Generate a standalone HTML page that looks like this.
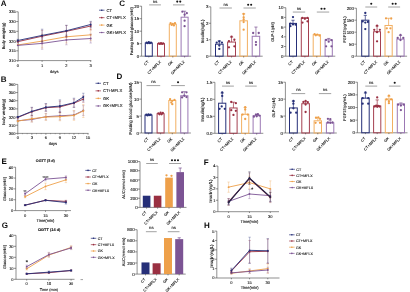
<!DOCTYPE html><html><head><meta charset="utf-8"><style>html,body{margin:0;padding:0;background:#fff;width:410px;height:292px;overflow:hidden}svg{display:block;will-change:transform}</style></head><body>
<svg width="410" height="292" viewBox="0 0 410 292" text-rendering="geometricPrecision" font-family='"Liberation Sans", sans-serif'>
<rect width="410" height="292" fill="#fff"/>
<text x="0.80" y="6.30" font-size="8" text-anchor="start" font-weight="bold" fill="#0a0a0a">A</text>
<line x1="18.20" y1="11.80" x2="18.20" y2="60.60" stroke="#444" stroke-width="0.6"/>
<line x1="16.20" y1="60.60" x2="18.20" y2="60.60" stroke="#444" stroke-width="0.6"/>
<text x="15.80" y="62.04" font-size="4.0" text-anchor="end" font-weight="normal" fill="#111" stroke="#111" stroke-width="0.1">310</text>
<line x1="16.20" y1="50.84" x2="18.20" y2="50.84" stroke="#444" stroke-width="0.6"/>
<text x="15.80" y="52.28" font-size="4.0" text-anchor="end" font-weight="normal" fill="#111" stroke="#111" stroke-width="0.1">315</text>
<line x1="16.20" y1="41.08" x2="18.20" y2="41.08" stroke="#444" stroke-width="0.6"/>
<text x="15.80" y="42.52" font-size="4.0" text-anchor="end" font-weight="normal" fill="#111" stroke="#111" stroke-width="0.1">320</text>
<line x1="16.20" y1="31.32" x2="18.20" y2="31.32" stroke="#444" stroke-width="0.6"/>
<text x="15.80" y="32.76" font-size="4.0" text-anchor="end" font-weight="normal" fill="#111" stroke="#111" stroke-width="0.1">325</text>
<line x1="16.20" y1="21.56" x2="18.20" y2="21.56" stroke="#444" stroke-width="0.6"/>
<text x="15.80" y="23.00" font-size="4.0" text-anchor="end" font-weight="normal" fill="#111" stroke="#111" stroke-width="0.1">330</text>
<line x1="16.20" y1="11.80" x2="18.20" y2="11.80" stroke="#444" stroke-width="0.6"/>
<text x="15.80" y="13.24" font-size="4.0" text-anchor="end" font-weight="normal" fill="#111" stroke="#111" stroke-width="0.1">335</text>
<line x1="18.20" y1="60.60" x2="91.30" y2="60.60" stroke="#444" stroke-width="0.6"/>
<line x1="17.80" y1="60.60" x2="17.80" y2="61.90" stroke="#444" stroke-width="0.6"/>
<text x="17.80" y="66.60" font-size="4.0" text-anchor="middle" font-weight="normal" fill="#111" stroke="#111" stroke-width="0.1">0</text>
<line x1="42.10" y1="60.60" x2="42.10" y2="61.90" stroke="#444" stroke-width="0.6"/>
<text x="42.10" y="66.60" font-size="4.0" text-anchor="middle" font-weight="normal" fill="#111" stroke="#111" stroke-width="0.1">1</text>
<line x1="66.40" y1="60.60" x2="66.40" y2="61.90" stroke="#444" stroke-width="0.6"/>
<text x="66.40" y="66.60" font-size="4.0" text-anchor="middle" font-weight="normal" fill="#111" stroke="#111" stroke-width="0.1">2</text>
<line x1="90.70" y1="60.60" x2="90.70" y2="61.90" stroke="#444" stroke-width="0.6"/>
<text x="90.70" y="66.60" font-size="4.0" text-anchor="middle" font-weight="normal" fill="#111" stroke="#111" stroke-width="0.1">3</text>
<text x="54.25" y="72.50" font-size="4.0" text-anchor="middle" font-weight="normal" fill="#111" stroke="#111" stroke-width="0.1">days</text>
<text x="5.20" y="36.00" font-size="4.0" text-anchor="middle" font-weight="normal" fill="#111" stroke="#111" stroke-width="0.1" transform="rotate(-90 5.20 36.00)">Body weight(g)</text>
<line x1="42.10" y1="34.25" x2="42.10" y2="47.91" stroke="#eea04a" stroke-width="0.45" stroke-opacity="0.7"/>
<line x1="40.90" y1="34.25" x2="43.30" y2="34.25" stroke="#eea04a" stroke-width="0.45" stroke-opacity="0.7"/>
<line x1="40.90" y1="47.91" x2="43.30" y2="47.91" stroke="#eea04a" stroke-width="0.45" stroke-opacity="0.7"/>
<line x1="66.40" y1="30.54" x2="66.40" y2="43.03" stroke="#eea04a" stroke-width="0.45" stroke-opacity="0.7"/>
<line x1="65.20" y1="30.54" x2="67.60" y2="30.54" stroke="#eea04a" stroke-width="0.45" stroke-opacity="0.7"/>
<line x1="65.20" y1="43.03" x2="67.60" y2="43.03" stroke="#eea04a" stroke-width="0.45" stroke-opacity="0.7"/>
<line x1="90.70" y1="28.98" x2="90.70" y2="40.69" stroke="#eea04a" stroke-width="0.45" stroke-opacity="0.7"/>
<line x1="89.50" y1="28.98" x2="91.90" y2="28.98" stroke="#eea04a" stroke-width="0.45" stroke-opacity="0.7"/>
<line x1="89.50" y1="40.69" x2="91.90" y2="40.69" stroke="#eea04a" stroke-width="0.45" stroke-opacity="0.7"/>
<polyline points="17.80,44.98 42.10,41.08 66.40,36.79 90.70,34.83" fill="none" stroke="#eea04a" stroke-width="0.9"/>
<circle cx="17.80" cy="44.98" r="0.95" fill="#eea04a"/>
<circle cx="42.10" cy="41.08" r="0.95" fill="#eea04a"/>
<circle cx="66.40" cy="36.79" r="0.95" fill="#eea04a"/>
<circle cx="90.70" cy="34.83" r="0.95" fill="#eea04a"/>
<line x1="42.10" y1="37.57" x2="42.10" y2="49.28" stroke="#7c5494" stroke-width="0.45" stroke-opacity="0.7"/>
<line x1="40.90" y1="37.57" x2="43.30" y2="37.57" stroke="#7c5494" stroke-width="0.45" stroke-opacity="0.7"/>
<line x1="40.90" y1="49.28" x2="43.30" y2="49.28" stroke="#7c5494" stroke-width="0.45" stroke-opacity="0.7"/>
<line x1="66.40" y1="35.03" x2="66.40" y2="44.79" stroke="#7c5494" stroke-width="0.45" stroke-opacity="0.7"/>
<line x1="65.20" y1="35.03" x2="67.60" y2="35.03" stroke="#7c5494" stroke-width="0.45" stroke-opacity="0.7"/>
<line x1="65.20" y1="44.79" x2="67.60" y2="44.79" stroke="#7c5494" stroke-width="0.45" stroke-opacity="0.7"/>
<line x1="90.70" y1="34.05" x2="90.70" y2="43.03" stroke="#7c5494" stroke-width="0.45" stroke-opacity="0.7"/>
<line x1="89.50" y1="34.05" x2="91.90" y2="34.05" stroke="#7c5494" stroke-width="0.45" stroke-opacity="0.7"/>
<line x1="89.50" y1="43.03" x2="91.90" y2="43.03" stroke="#7c5494" stroke-width="0.45" stroke-opacity="0.7"/>
<polyline points="17.80,45.37 42.10,43.42 66.40,39.91 90.70,38.54" fill="none" stroke="#7c5494" stroke-width="0.9"/>
<circle cx="17.80" cy="45.37" r="0.95" fill="#7c5494"/>
<circle cx="42.10" cy="43.42" r="0.95" fill="#7c5494"/>
<circle cx="66.40" cy="39.91" r="0.95" fill="#7c5494"/>
<circle cx="90.70" cy="38.54" r="0.95" fill="#7c5494"/>
<line x1="17.80" y1="40.49" x2="17.80" y2="42.84" stroke="#9a3042" stroke-width="0.45" stroke-opacity="0.7"/>
<line x1="16.60" y1="40.49" x2="19.00" y2="40.49" stroke="#9a3042" stroke-width="0.45" stroke-opacity="0.7"/>
<line x1="16.60" y1="42.84" x2="19.00" y2="42.84" stroke="#9a3042" stroke-width="0.45" stroke-opacity="0.7"/>
<line x1="42.10" y1="30.34" x2="42.10" y2="42.06" stroke="#9a3042" stroke-width="0.45" stroke-opacity="0.7"/>
<line x1="40.90" y1="30.34" x2="43.30" y2="30.34" stroke="#9a3042" stroke-width="0.45" stroke-opacity="0.7"/>
<line x1="40.90" y1="42.06" x2="43.30" y2="42.06" stroke="#9a3042" stroke-width="0.45" stroke-opacity="0.7"/>
<line x1="66.40" y1="25.46" x2="66.40" y2="37.18" stroke="#9a3042" stroke-width="0.45" stroke-opacity="0.7"/>
<line x1="65.20" y1="25.46" x2="67.60" y2="25.46" stroke="#9a3042" stroke-width="0.45" stroke-opacity="0.7"/>
<line x1="65.20" y1="37.18" x2="67.60" y2="37.18" stroke="#9a3042" stroke-width="0.45" stroke-opacity="0.7"/>
<line x1="90.70" y1="22.15" x2="90.70" y2="29.95" stroke="#9a3042" stroke-width="0.45" stroke-opacity="0.7"/>
<line x1="89.50" y1="22.15" x2="91.90" y2="22.15" stroke="#9a3042" stroke-width="0.45" stroke-opacity="0.7"/>
<line x1="89.50" y1="29.95" x2="91.90" y2="29.95" stroke="#9a3042" stroke-width="0.45" stroke-opacity="0.7"/>
<polyline points="17.80,41.67 42.10,36.20 66.40,31.32 90.70,26.05" fill="none" stroke="#9a3042" stroke-width="0.9"/>
<circle cx="17.80" cy="41.67" r="0.95" fill="#9a3042"/>
<circle cx="42.10" cy="36.20" r="0.95" fill="#9a3042"/>
<circle cx="66.40" cy="31.32" r="0.95" fill="#9a3042"/>
<circle cx="90.70" cy="26.05" r="0.95" fill="#9a3042"/>
<line x1="17.80" y1="39.32" x2="17.80" y2="41.67" stroke="#262f78" stroke-width="0.45" stroke-opacity="0.7"/>
<line x1="16.60" y1="39.32" x2="19.00" y2="39.32" stroke="#262f78" stroke-width="0.45" stroke-opacity="0.7"/>
<line x1="16.60" y1="41.67" x2="19.00" y2="41.67" stroke="#262f78" stroke-width="0.45" stroke-opacity="0.7"/>
<line x1="42.10" y1="29.17" x2="42.10" y2="41.67" stroke="#262f78" stroke-width="0.45" stroke-opacity="0.7"/>
<line x1="40.90" y1="29.17" x2="43.30" y2="29.17" stroke="#262f78" stroke-width="0.45" stroke-opacity="0.7"/>
<line x1="40.90" y1="41.67" x2="43.30" y2="41.67" stroke="#262f78" stroke-width="0.45" stroke-opacity="0.7"/>
<line x1="66.40" y1="25.27" x2="66.40" y2="36.20" stroke="#262f78" stroke-width="0.45" stroke-opacity="0.7"/>
<line x1="65.20" y1="25.27" x2="67.60" y2="25.27" stroke="#262f78" stroke-width="0.45" stroke-opacity="0.7"/>
<line x1="65.20" y1="36.20" x2="67.60" y2="36.20" stroke="#262f78" stroke-width="0.45" stroke-opacity="0.7"/>
<line x1="90.70" y1="21.36" x2="90.70" y2="27.61" stroke="#262f78" stroke-width="0.45" stroke-opacity="0.7"/>
<line x1="89.50" y1="21.36" x2="91.90" y2="21.36" stroke="#262f78" stroke-width="0.45" stroke-opacity="0.7"/>
<line x1="89.50" y1="27.61" x2="91.90" y2="27.61" stroke="#262f78" stroke-width="0.45" stroke-opacity="0.7"/>
<polyline points="17.80,40.49 42.10,35.42 66.40,30.73 90.70,24.49" fill="none" stroke="#262f78" stroke-width="0.9"/>
<circle cx="17.80" cy="40.49" r="0.95" fill="#262f78"/>
<circle cx="42.10" cy="35.42" r="0.95" fill="#262f78"/>
<circle cx="66.40" cy="30.73" r="0.95" fill="#262f78"/>
<circle cx="90.70" cy="24.49" r="0.95" fill="#262f78"/>
<line x1="99.00" y1="10.20" x2="104.50" y2="10.20" stroke="#262f78" stroke-width="0.7"/>
<circle cx="101.75" cy="10.20" r="0.8" fill="#262f78"/>
<text x="106.50" y="11.71" font-size="4.2" text-anchor="start" font-weight="normal" fill="#111" stroke="#111" stroke-width="0.1">CT</text>
<line x1="99.00" y1="17.65" x2="104.50" y2="17.65" stroke="#9a3042" stroke-width="0.7"/>
<circle cx="101.75" cy="17.65" r="0.8" fill="#9a3042"/>
<text x="106.50" y="19.16" font-size="4.2" text-anchor="start" font-weight="normal" fill="#111" stroke="#111" stroke-width="0.1">CT+MFLX</text>
<line x1="99.00" y1="25.10" x2="104.50" y2="25.10" stroke="#eea04a" stroke-width="0.7"/>
<circle cx="101.75" cy="25.10" r="0.8" fill="#eea04a"/>
<text x="106.50" y="26.61" font-size="4.2" text-anchor="start" font-weight="normal" fill="#111" stroke="#111" stroke-width="0.1">GK</text>
<line x1="99.00" y1="32.55" x2="104.50" y2="32.55" stroke="#7c5494" stroke-width="0.7"/>
<circle cx="101.75" cy="32.55" r="0.8" fill="#7c5494"/>
<text x="106.50" y="34.06" font-size="4.2" text-anchor="start" font-weight="normal" fill="#111" stroke="#111" stroke-width="0.1">GK+MFLX</text>
<text x="0.80" y="81.80" font-size="8" text-anchor="start" font-weight="bold" fill="#0a0a0a">B</text>
<line x1="17.80" y1="84.40" x2="17.80" y2="133.40" stroke="#444" stroke-width="0.6"/>
<line x1="15.80" y1="133.40" x2="17.80" y2="133.40" stroke="#444" stroke-width="0.6"/>
<text x="15.40" y="134.84" font-size="4.0" text-anchor="end" font-weight="normal" fill="#111" stroke="#111" stroke-width="0.1">300</text>
<line x1="15.80" y1="125.23" x2="17.80" y2="125.23" stroke="#444" stroke-width="0.6"/>
<text x="15.40" y="126.67" font-size="4.0" text-anchor="end" font-weight="normal" fill="#111" stroke="#111" stroke-width="0.1">310</text>
<line x1="15.80" y1="117.07" x2="17.80" y2="117.07" stroke="#444" stroke-width="0.6"/>
<text x="15.40" y="118.51" font-size="4.0" text-anchor="end" font-weight="normal" fill="#111" stroke="#111" stroke-width="0.1">320</text>
<line x1="15.80" y1="108.90" x2="17.80" y2="108.90" stroke="#444" stroke-width="0.6"/>
<text x="15.40" y="110.34" font-size="4.0" text-anchor="end" font-weight="normal" fill="#111" stroke="#111" stroke-width="0.1">330</text>
<line x1="15.80" y1="100.73" x2="17.80" y2="100.73" stroke="#444" stroke-width="0.6"/>
<text x="15.40" y="102.17" font-size="4.0" text-anchor="end" font-weight="normal" fill="#111" stroke="#111" stroke-width="0.1">340</text>
<line x1="15.80" y1="92.57" x2="17.80" y2="92.57" stroke="#444" stroke-width="0.6"/>
<text x="15.40" y="94.01" font-size="4.0" text-anchor="end" font-weight="normal" fill="#111" stroke="#111" stroke-width="0.1">350</text>
<line x1="15.80" y1="84.40" x2="17.80" y2="84.40" stroke="#444" stroke-width="0.6"/>
<text x="15.40" y="85.84" font-size="4.0" text-anchor="end" font-weight="normal" fill="#111" stroke="#111" stroke-width="0.1">360</text>
<line x1="17.80" y1="133.40" x2="88.50" y2="133.40" stroke="#444" stroke-width="0.6"/>
<line x1="22.48" y1="133.40" x2="22.48" y2="134.20" stroke="#444" stroke-width="0.45"/>
<line x1="27.16" y1="133.40" x2="27.16" y2="134.20" stroke="#444" stroke-width="0.45"/>
<line x1="36.52" y1="133.40" x2="36.52" y2="134.20" stroke="#444" stroke-width="0.45"/>
<line x1="41.20" y1="133.40" x2="41.20" y2="134.20" stroke="#444" stroke-width="0.45"/>
<line x1="50.56" y1="133.40" x2="50.56" y2="134.20" stroke="#444" stroke-width="0.45"/>
<line x1="55.24" y1="133.40" x2="55.24" y2="134.20" stroke="#444" stroke-width="0.45"/>
<line x1="64.60" y1="133.40" x2="64.60" y2="134.20" stroke="#444" stroke-width="0.45"/>
<line x1="69.28" y1="133.40" x2="69.28" y2="134.20" stroke="#444" stroke-width="0.45"/>
<line x1="78.64" y1="133.40" x2="78.64" y2="134.20" stroke="#444" stroke-width="0.45"/>
<line x1="83.32" y1="133.40" x2="83.32" y2="134.20" stroke="#444" stroke-width="0.45"/>
<line x1="17.80" y1="133.40" x2="17.80" y2="134.70" stroke="#444" stroke-width="0.6"/>
<text x="17.80" y="139.40" font-size="4.0" text-anchor="middle" font-weight="normal" fill="#111" stroke="#111" stroke-width="0.1">0</text>
<line x1="31.84" y1="133.40" x2="31.84" y2="134.70" stroke="#444" stroke-width="0.6"/>
<text x="31.84" y="139.40" font-size="4.0" text-anchor="middle" font-weight="normal" fill="#111" stroke="#111" stroke-width="0.1">3</text>
<line x1="45.88" y1="133.40" x2="45.88" y2="134.70" stroke="#444" stroke-width="0.6"/>
<text x="45.88" y="139.40" font-size="4.0" text-anchor="middle" font-weight="normal" fill="#111" stroke="#111" stroke-width="0.1">6</text>
<line x1="59.92" y1="133.40" x2="59.92" y2="134.70" stroke="#444" stroke-width="0.6"/>
<text x="59.92" y="139.40" font-size="4.0" text-anchor="middle" font-weight="normal" fill="#111" stroke="#111" stroke-width="0.1">9</text>
<line x1="73.96" y1="133.40" x2="73.96" y2="134.70" stroke="#444" stroke-width="0.6"/>
<text x="73.96" y="139.40" font-size="4.0" text-anchor="middle" font-weight="normal" fill="#111" stroke="#111" stroke-width="0.1">12</text>
<line x1="88.00" y1="133.40" x2="88.00" y2="134.70" stroke="#444" stroke-width="0.6"/>
<text x="88.00" y="139.40" font-size="4.0" text-anchor="middle" font-weight="normal" fill="#111" stroke="#111" stroke-width="0.1">15</text>
<text x="52.90" y="145.30" font-size="4.0" text-anchor="middle" font-weight="normal" fill="#111" stroke="#111" stroke-width="0.1">days</text>
<text x="5.00" y="112.00" font-size="4.0" text-anchor="middle" font-weight="normal" fill="#111" stroke="#111" stroke-width="0.1" transform="rotate(-90 5.00 112.00)">body weight(g)</text>
<line x1="17.80" y1="120.09" x2="17.80" y2="121.40" stroke="#7c5494" stroke-width="0.45" stroke-opacity="0.7"/>
<line x1="16.60" y1="120.09" x2="19.00" y2="120.09" stroke="#7c5494" stroke-width="0.45" stroke-opacity="0.7"/>
<line x1="16.60" y1="121.40" x2="19.00" y2="121.40" stroke="#7c5494" stroke-width="0.45" stroke-opacity="0.7"/>
<line x1="31.84" y1="117.07" x2="31.84" y2="121.97" stroke="#7c5494" stroke-width="0.45" stroke-opacity="0.7"/>
<line x1="30.64" y1="117.07" x2="33.04" y2="117.07" stroke="#7c5494" stroke-width="0.45" stroke-opacity="0.7"/>
<line x1="30.64" y1="121.97" x2="33.04" y2="121.97" stroke="#7c5494" stroke-width="0.45" stroke-opacity="0.7"/>
<line x1="45.88" y1="113.39" x2="45.88" y2="119.93" stroke="#7c5494" stroke-width="0.45" stroke-opacity="0.7"/>
<line x1="44.68" y1="113.39" x2="47.08" y2="113.39" stroke="#7c5494" stroke-width="0.45" stroke-opacity="0.7"/>
<line x1="44.68" y1="119.93" x2="47.08" y2="119.93" stroke="#7c5494" stroke-width="0.45" stroke-opacity="0.7"/>
<line x1="59.92" y1="111.76" x2="59.92" y2="119.93" stroke="#7c5494" stroke-width="0.45" stroke-opacity="0.7"/>
<line x1="58.72" y1="111.76" x2="61.12" y2="111.76" stroke="#7c5494" stroke-width="0.45" stroke-opacity="0.7"/>
<line x1="58.72" y1="119.93" x2="61.12" y2="119.93" stroke="#7c5494" stroke-width="0.45" stroke-opacity="0.7"/>
<line x1="73.96" y1="110.94" x2="73.96" y2="119.11" stroke="#7c5494" stroke-width="0.45" stroke-opacity="0.7"/>
<line x1="72.76" y1="110.94" x2="75.16" y2="110.94" stroke="#7c5494" stroke-width="0.45" stroke-opacity="0.7"/>
<line x1="72.76" y1="119.11" x2="75.16" y2="119.11" stroke="#7c5494" stroke-width="0.45" stroke-opacity="0.7"/>
<line x1="83.32" y1="105.63" x2="83.32" y2="115.43" stroke="#7c5494" stroke-width="0.45" stroke-opacity="0.7"/>
<line x1="82.12" y1="105.63" x2="84.52" y2="105.63" stroke="#7c5494" stroke-width="0.45" stroke-opacity="0.7"/>
<line x1="82.12" y1="115.43" x2="84.52" y2="115.43" stroke="#7c5494" stroke-width="0.45" stroke-opacity="0.7"/>
<polyline points="17.80,120.74 31.84,119.52 45.88,116.66 59.92,115.84 73.96,115.03 83.32,110.53" fill="none" stroke="#7c5494" stroke-width="0.9"/>
<circle cx="17.80" cy="120.74" r="0.95" fill="#7c5494"/>
<circle cx="31.84" cy="119.52" r="0.95" fill="#7c5494"/>
<circle cx="45.88" cy="116.66" r="0.95" fill="#7c5494"/>
<circle cx="59.92" cy="115.84" r="0.95" fill="#7c5494"/>
<circle cx="73.96" cy="115.03" r="0.95" fill="#7c5494"/>
<circle cx="83.32" cy="110.53" r="0.95" fill="#7c5494"/>
<line x1="17.80" y1="120.50" x2="17.80" y2="121.80" stroke="#eea04a" stroke-width="0.45" stroke-opacity="0.7"/>
<line x1="16.60" y1="120.50" x2="19.00" y2="120.50" stroke="#eea04a" stroke-width="0.45" stroke-opacity="0.7"/>
<line x1="16.60" y1="121.80" x2="19.00" y2="121.80" stroke="#eea04a" stroke-width="0.45" stroke-opacity="0.7"/>
<line x1="31.84" y1="115.43" x2="31.84" y2="121.97" stroke="#eea04a" stroke-width="0.45" stroke-opacity="0.7"/>
<line x1="30.64" y1="115.43" x2="33.04" y2="115.43" stroke="#eea04a" stroke-width="0.45" stroke-opacity="0.7"/>
<line x1="30.64" y1="121.97" x2="33.04" y2="121.97" stroke="#eea04a" stroke-width="0.45" stroke-opacity="0.7"/>
<line x1="45.88" y1="113.80" x2="45.88" y2="120.33" stroke="#eea04a" stroke-width="0.45" stroke-opacity="0.7"/>
<line x1="44.68" y1="113.80" x2="47.08" y2="113.80" stroke="#eea04a" stroke-width="0.45" stroke-opacity="0.7"/>
<line x1="44.68" y1="120.33" x2="47.08" y2="120.33" stroke="#eea04a" stroke-width="0.45" stroke-opacity="0.7"/>
<line x1="59.92" y1="112.58" x2="59.92" y2="120.74" stroke="#eea04a" stroke-width="0.45" stroke-opacity="0.7"/>
<line x1="58.72" y1="112.58" x2="61.12" y2="112.58" stroke="#eea04a" stroke-width="0.45" stroke-opacity="0.7"/>
<line x1="58.72" y1="120.74" x2="61.12" y2="120.74" stroke="#eea04a" stroke-width="0.45" stroke-opacity="0.7"/>
<line x1="73.96" y1="110.53" x2="73.96" y2="120.33" stroke="#eea04a" stroke-width="0.45" stroke-opacity="0.7"/>
<line x1="72.76" y1="110.53" x2="75.16" y2="110.53" stroke="#eea04a" stroke-width="0.45" stroke-opacity="0.7"/>
<line x1="72.76" y1="120.33" x2="75.16" y2="120.33" stroke="#eea04a" stroke-width="0.45" stroke-opacity="0.7"/>
<line x1="83.32" y1="104.41" x2="83.32" y2="117.48" stroke="#eea04a" stroke-width="0.45" stroke-opacity="0.7"/>
<line x1="82.12" y1="104.41" x2="84.52" y2="104.41" stroke="#eea04a" stroke-width="0.45" stroke-opacity="0.7"/>
<line x1="82.12" y1="117.48" x2="84.52" y2="117.48" stroke="#eea04a" stroke-width="0.45" stroke-opacity="0.7"/>
<polyline points="17.80,121.15 31.84,118.70 45.88,117.07 59.92,116.66 73.96,115.43 83.32,110.94" fill="none" stroke="#eea04a" stroke-width="0.9"/>
<circle cx="17.80" cy="121.15" r="0.95" fill="#eea04a"/>
<circle cx="31.84" cy="118.70" r="0.95" fill="#eea04a"/>
<circle cx="45.88" cy="117.07" r="0.95" fill="#eea04a"/>
<circle cx="59.92" cy="116.66" r="0.95" fill="#eea04a"/>
<circle cx="73.96" cy="115.43" r="0.95" fill="#eea04a"/>
<circle cx="83.32" cy="110.94" r="0.95" fill="#eea04a"/>
<line x1="17.80" y1="116.82" x2="17.80" y2="118.13" stroke="#9a3042" stroke-width="0.45" stroke-opacity="0.7"/>
<line x1="16.60" y1="116.82" x2="19.00" y2="116.82" stroke="#9a3042" stroke-width="0.45" stroke-opacity="0.7"/>
<line x1="16.60" y1="118.13" x2="19.00" y2="118.13" stroke="#9a3042" stroke-width="0.45" stroke-opacity="0.7"/>
<line x1="31.84" y1="107.68" x2="31.84" y2="115.84" stroke="#9a3042" stroke-width="0.45" stroke-opacity="0.7"/>
<line x1="30.64" y1="107.68" x2="33.04" y2="107.68" stroke="#9a3042" stroke-width="0.45" stroke-opacity="0.7"/>
<line x1="30.64" y1="115.84" x2="33.04" y2="115.84" stroke="#9a3042" stroke-width="0.45" stroke-opacity="0.7"/>
<line x1="45.88" y1="104.00" x2="45.88" y2="111.35" stroke="#9a3042" stroke-width="0.45" stroke-opacity="0.7"/>
<line x1="44.68" y1="104.00" x2="47.08" y2="104.00" stroke="#9a3042" stroke-width="0.45" stroke-opacity="0.7"/>
<line x1="44.68" y1="111.35" x2="47.08" y2="111.35" stroke="#9a3042" stroke-width="0.45" stroke-opacity="0.7"/>
<line x1="59.92" y1="101.14" x2="59.92" y2="112.58" stroke="#9a3042" stroke-width="0.45" stroke-opacity="0.7"/>
<line x1="58.72" y1="101.14" x2="61.12" y2="101.14" stroke="#9a3042" stroke-width="0.45" stroke-opacity="0.7"/>
<line x1="58.72" y1="112.58" x2="61.12" y2="112.58" stroke="#9a3042" stroke-width="0.45" stroke-opacity="0.7"/>
<line x1="73.96" y1="99.10" x2="73.96" y2="107.27" stroke="#9a3042" stroke-width="0.45" stroke-opacity="0.7"/>
<line x1="72.76" y1="99.10" x2="75.16" y2="99.10" stroke="#9a3042" stroke-width="0.45" stroke-opacity="0.7"/>
<line x1="72.76" y1="107.27" x2="75.16" y2="107.27" stroke="#9a3042" stroke-width="0.45" stroke-opacity="0.7"/>
<line x1="83.32" y1="95.83" x2="83.32" y2="102.37" stroke="#9a3042" stroke-width="0.45" stroke-opacity="0.7"/>
<line x1="82.12" y1="95.83" x2="84.52" y2="95.83" stroke="#9a3042" stroke-width="0.45" stroke-opacity="0.7"/>
<line x1="82.12" y1="102.37" x2="84.52" y2="102.37" stroke="#9a3042" stroke-width="0.45" stroke-opacity="0.7"/>
<polyline points="17.80,117.48 31.84,111.76 45.88,107.68 59.92,106.86 73.96,103.18 83.32,99.10" fill="none" stroke="#9a3042" stroke-width="0.9"/>
<circle cx="17.80" cy="117.48" r="0.95" fill="#9a3042"/>
<circle cx="31.84" cy="111.76" r="0.95" fill="#9a3042"/>
<circle cx="45.88" cy="107.68" r="0.95" fill="#9a3042"/>
<circle cx="59.92" cy="106.86" r="0.95" fill="#9a3042"/>
<circle cx="73.96" cy="103.18" r="0.95" fill="#9a3042"/>
<circle cx="83.32" cy="99.10" r="0.95" fill="#9a3042"/>
<line x1="17.80" y1="116.41" x2="17.80" y2="117.72" stroke="#262f78" stroke-width="0.45" stroke-opacity="0.7"/>
<line x1="16.60" y1="116.41" x2="19.00" y2="116.41" stroke="#262f78" stroke-width="0.45" stroke-opacity="0.7"/>
<line x1="16.60" y1="117.72" x2="19.00" y2="117.72" stroke="#262f78" stroke-width="0.45" stroke-opacity="0.7"/>
<line x1="31.84" y1="107.27" x2="31.84" y2="115.43" stroke="#262f78" stroke-width="0.45" stroke-opacity="0.7"/>
<line x1="30.64" y1="107.27" x2="33.04" y2="107.27" stroke="#262f78" stroke-width="0.45" stroke-opacity="0.7"/>
<line x1="30.64" y1="115.43" x2="33.04" y2="115.43" stroke="#262f78" stroke-width="0.45" stroke-opacity="0.7"/>
<line x1="45.88" y1="103.51" x2="45.88" y2="111.02" stroke="#262f78" stroke-width="0.45" stroke-opacity="0.7"/>
<line x1="44.68" y1="103.51" x2="47.08" y2="103.51" stroke="#262f78" stroke-width="0.45" stroke-opacity="0.7"/>
<line x1="44.68" y1="111.02" x2="47.08" y2="111.02" stroke="#262f78" stroke-width="0.45" stroke-opacity="0.7"/>
<line x1="59.92" y1="99.83" x2="59.92" y2="112.25" stroke="#262f78" stroke-width="0.45" stroke-opacity="0.7"/>
<line x1="58.72" y1="99.83" x2="61.12" y2="99.83" stroke="#262f78" stroke-width="0.45" stroke-opacity="0.7"/>
<line x1="58.72" y1="112.25" x2="61.12" y2="112.25" stroke="#262f78" stroke-width="0.45" stroke-opacity="0.7"/>
<line x1="73.96" y1="98.20" x2="73.96" y2="107.35" stroke="#262f78" stroke-width="0.45" stroke-opacity="0.7"/>
<line x1="72.76" y1="98.20" x2="75.16" y2="98.20" stroke="#262f78" stroke-width="0.45" stroke-opacity="0.7"/>
<line x1="72.76" y1="107.35" x2="75.16" y2="107.35" stroke="#262f78" stroke-width="0.45" stroke-opacity="0.7"/>
<line x1="83.32" y1="93.22" x2="83.32" y2="100.90" stroke="#262f78" stroke-width="0.45" stroke-opacity="0.7"/>
<line x1="82.12" y1="93.22" x2="84.52" y2="93.22" stroke="#262f78" stroke-width="0.45" stroke-opacity="0.7"/>
<line x1="82.12" y1="100.90" x2="84.52" y2="100.90" stroke="#262f78" stroke-width="0.45" stroke-opacity="0.7"/>
<polyline points="17.80,117.07 31.84,111.35 45.88,107.27 59.92,106.04 73.96,102.78 83.32,97.06" fill="none" stroke="#262f78" stroke-width="0.9"/>
<circle cx="17.80" cy="117.07" r="0.95" fill="#262f78"/>
<circle cx="31.84" cy="111.35" r="0.95" fill="#262f78"/>
<circle cx="45.88" cy="107.27" r="0.95" fill="#262f78"/>
<circle cx="59.92" cy="106.04" r="0.95" fill="#262f78"/>
<circle cx="73.96" cy="102.78" r="0.95" fill="#262f78"/>
<circle cx="83.32" cy="97.06" r="0.95" fill="#262f78"/>
<line x1="95.50" y1="83.30" x2="101.00" y2="83.30" stroke="#262f78" stroke-width="0.7"/>
<circle cx="98.25" cy="83.30" r="0.8" fill="#262f78"/>
<text x="103.00" y="84.81" font-size="4.2" text-anchor="start" font-weight="normal" fill="#111" stroke="#111" stroke-width="0.1">CT</text>
<line x1="95.50" y1="90.85" x2="101.00" y2="90.85" stroke="#9a3042" stroke-width="0.7"/>
<circle cx="98.25" cy="90.85" r="0.8" fill="#9a3042"/>
<text x="103.00" y="92.36" font-size="4.2" text-anchor="start" font-weight="normal" fill="#111" stroke="#111" stroke-width="0.1">CT+MFLX</text>
<line x1="95.50" y1="98.40" x2="101.00" y2="98.40" stroke="#eea04a" stroke-width="0.7"/>
<circle cx="98.25" cy="98.40" r="0.8" fill="#eea04a"/>
<text x="103.00" y="99.91" font-size="4.2" text-anchor="start" font-weight="normal" fill="#111" stroke="#111" stroke-width="0.1">GK</text>
<line x1="95.50" y1="105.95" x2="101.00" y2="105.95" stroke="#7c5494" stroke-width="0.7"/>
<circle cx="98.25" cy="105.95" r="0.8" fill="#7c5494"/>
<text x="103.00" y="107.46" font-size="4.2" text-anchor="start" font-weight="normal" fill="#111" stroke="#111" stroke-width="0.1">GK+MFLX</text>
<text x="119.30" y="6.30" font-size="8" text-anchor="start" font-weight="bold" fill="#0a0a0a">C</text>
<line x1="141.60" y1="6.20" x2="141.60" y2="56.20" stroke="#444" stroke-width="0.6"/>
<line x1="139.60" y1="56.20" x2="141.60" y2="56.20" stroke="#444" stroke-width="0.6"/>
<text x="139.20" y="57.78" font-size="4.4" text-anchor="end" font-weight="normal" fill="#111" stroke="#111" stroke-width="0.1">0</text>
<line x1="139.60" y1="43.70" x2="141.60" y2="43.70" stroke="#444" stroke-width="0.6"/>
<text x="139.20" y="45.28" font-size="4.4" text-anchor="end" font-weight="normal" fill="#111" stroke="#111" stroke-width="0.1">5</text>
<line x1="139.60" y1="31.20" x2="141.60" y2="31.20" stroke="#444" stroke-width="0.6"/>
<text x="139.20" y="32.78" font-size="4.4" text-anchor="end" font-weight="normal" fill="#111" stroke="#111" stroke-width="0.1">10</text>
<line x1="139.60" y1="18.70" x2="141.60" y2="18.70" stroke="#444" stroke-width="0.6"/>
<text x="139.20" y="20.28" font-size="4.4" text-anchor="end" font-weight="normal" fill="#111" stroke="#111" stroke-width="0.1">15</text>
<line x1="139.60" y1="6.20" x2="141.60" y2="6.20" stroke="#444" stroke-width="0.6"/>
<text x="139.20" y="7.78" font-size="4.4" text-anchor="end" font-weight="normal" fill="#111" stroke="#111" stroke-width="0.1">20</text>
<line x1="141.60" y1="56.20" x2="191.10" y2="56.20" stroke="#444" stroke-width="0.6"/>
<rect x="145.30" y="42.95" width="7.00" height="13.25" fill="none" stroke="#262f78" stroke-width="1.0"/>
<circle cx="146.60" cy="42.70" r="1.15" fill="#262f78"/>
<circle cx="148.80" cy="42.20" r="1.15" fill="#262f78"/>
<circle cx="151.00" cy="42.70" r="1.15" fill="#262f78"/>
<circle cx="147.70" cy="43.20" r="1.15" fill="#262f78"/>
<circle cx="149.90" cy="43.20" r="1.15" fill="#262f78"/>
<line x1="148.80" y1="56.20" x2="148.80" y2="57.50" stroke="#444" stroke-width="0.6"/>
<text x="149.20" y="62.10" font-size="3.8" text-anchor="end" font-weight="normal" fill="#111" stroke="#111" stroke-width="0.1" transform="rotate(-45 149.20 62.10)">CT</text>
<rect x="157.50" y="43.70" width="7.00" height="12.50" fill="none" stroke="#a54050" stroke-width="1.0"/>
<circle cx="158.80" cy="43.45" r="1.15" fill="#9a3042"/>
<circle cx="161.00" cy="43.20" r="1.15" fill="#9a3042"/>
<circle cx="163.20" cy="43.45" r="1.15" fill="#9a3042"/>
<circle cx="159.90" cy="43.95" r="1.15" fill="#9a3042"/>
<circle cx="162.10" cy="43.95" r="1.15" fill="#9a3042"/>
<line x1="161.00" y1="56.20" x2="161.00" y2="57.50" stroke="#444" stroke-width="0.6"/>
<text x="161.40" y="62.10" font-size="3.8" text-anchor="end" font-weight="normal" fill="#111" stroke="#111" stroke-width="0.1" transform="rotate(-45 161.40 62.10)">CT+MFLX</text>
<rect x="169.30" y="24.20" width="7.00" height="32.00" fill="none" stroke="#f2b062" stroke-width="1.0"/>
<circle cx="170.60" cy="23.20" r="1.15" fill="#eea04a"/>
<circle cx="172.80" cy="23.95" r="1.15" fill="#eea04a"/>
<circle cx="175.00" cy="23.20" r="1.15" fill="#eea04a"/>
<circle cx="171.70" cy="24.95" r="1.15" fill="#eea04a"/>
<circle cx="173.90" cy="25.45" r="1.15" fill="#eea04a"/>
<line x1="172.80" y1="56.20" x2="172.80" y2="57.50" stroke="#444" stroke-width="0.6"/>
<text x="173.20" y="62.10" font-size="3.8" text-anchor="end" font-weight="normal" fill="#111" stroke="#111" stroke-width="0.1" transform="rotate(-45 173.20 62.10)">GK</text>
<line x1="184.60" y1="11.20" x2="184.60" y2="17.20" stroke="#7c5494" stroke-width="0.7"/>
<line x1="183.00" y1="11.20" x2="186.20" y2="11.20" stroke="#7c5494" stroke-width="0.7"/>
<rect x="181.10" y="17.20" width="7.00" height="39.00" fill="none" stroke="#9c78b4" stroke-width="1.0"/>
<circle cx="182.40" cy="11.70" r="1.15" fill="#7c5494"/>
<circle cx="186.80" cy="13.20" r="1.15" fill="#7c5494"/>
<circle cx="184.60" cy="14.70" r="1.15" fill="#7c5494"/>
<circle cx="184.60" cy="20.70" r="1.15" fill="#7c5494"/>
<circle cx="184.60" cy="26.20" r="1.15" fill="#7c5494"/>
<line x1="184.60" y1="56.20" x2="184.60" y2="57.50" stroke="#444" stroke-width="0.6"/>
<text x="185.00" y="62.10" font-size="3.8" text-anchor="end" font-weight="normal" fill="#111" stroke="#111" stroke-width="0.1" transform="rotate(-45 185.00 62.10)">GK+MFLX</text>
<line x1="149.20" y1="4.90" x2="160.90" y2="4.90" stroke="#555" stroke-width="0.55"/>
<text x="155.05" y="2.60" font-size="4.2" text-anchor="middle" font-weight="normal" fill="#111" stroke="#111" stroke-width="0.1">ns</text>
<line x1="173.00" y1="4.90" x2="184.50" y2="4.90" stroke="#555" stroke-width="0.55"/>
<circle cx="177.25" cy="1.60" r="1.05" fill="#151515"/>
<circle cx="180.25" cy="1.60" r="1.05" fill="#151515"/>
<text x="133.50" y="31.20" font-size="4.0" text-anchor="middle" font-weight="normal" fill="#111" stroke="#111" stroke-width="0.1" transform="rotate(-90 133.50 31.20)">Fasting blood glucose(mM)</text>
<text x="0.00" y="0.00" font-size="8" text-anchor="start" font-weight="bold" fill="#0a0a0a"></text>
<line x1="210.80" y1="6.80" x2="210.80" y2="56.20" stroke="#444" stroke-width="0.6"/>
<line x1="208.80" y1="56.20" x2="210.80" y2="56.20" stroke="#444" stroke-width="0.6"/>
<text x="208.40" y="57.78" font-size="4.4" text-anchor="end" font-weight="normal" fill="#111" stroke="#111" stroke-width="0.1">0</text>
<line x1="208.80" y1="39.73" x2="210.80" y2="39.73" stroke="#444" stroke-width="0.6"/>
<text x="208.40" y="41.32" font-size="4.4" text-anchor="end" font-weight="normal" fill="#111" stroke="#111" stroke-width="0.1">1</text>
<line x1="208.80" y1="23.27" x2="210.80" y2="23.27" stroke="#444" stroke-width="0.6"/>
<text x="208.40" y="24.85" font-size="4.4" text-anchor="end" font-weight="normal" fill="#111" stroke="#111" stroke-width="0.1">2</text>
<line x1="208.80" y1="6.80" x2="210.80" y2="6.80" stroke="#444" stroke-width="0.6"/>
<text x="208.40" y="8.38" font-size="4.4" text-anchor="end" font-weight="normal" fill="#111" stroke="#111" stroke-width="0.1">3</text>
<line x1="210.80" y1="56.20" x2="262.70" y2="56.20" stroke="#444" stroke-width="0.6"/>
<line x1="219.30" y1="40.89" x2="219.30" y2="44.18" stroke="#262f78" stroke-width="0.7"/>
<line x1="217.70" y1="40.89" x2="220.90" y2="40.89" stroke="#262f78" stroke-width="0.7"/>
<rect x="215.50" y="44.18" width="7.60" height="12.02" fill="none" stroke="#262f78" stroke-width="1.0"/>
<circle cx="219.30" cy="41.38" r="1.15" fill="#262f78"/>
<circle cx="216.70" cy="42.53" r="1.15" fill="#262f78"/>
<circle cx="221.90" cy="42.53" r="1.15" fill="#262f78"/>
<circle cx="219.30" cy="45.50" r="1.15" fill="#262f78"/>
<circle cx="219.30" cy="48.95" r="1.15" fill="#262f78"/>
<line x1="219.30" y1="56.20" x2="219.30" y2="57.50" stroke="#444" stroke-width="0.6"/>
<text x="219.70" y="62.10" font-size="3.8" text-anchor="end" font-weight="normal" fill="#111" stroke="#111" stroke-width="0.1" transform="rotate(-45 219.70 62.10)">CT</text>
<line x1="231.55" y1="37.10" x2="231.55" y2="42.04" stroke="#9a3042" stroke-width="0.7"/>
<line x1="229.95" y1="37.10" x2="233.15" y2="37.10" stroke="#9a3042" stroke-width="0.7"/>
<rect x="227.60" y="42.04" width="7.90" height="14.16" fill="none" stroke="#a54050" stroke-width="1.0"/>
<circle cx="231.55" cy="36.60" r="1.15" fill="#9a3042"/>
<circle cx="228.95" cy="41.05" r="1.15" fill="#9a3042"/>
<circle cx="234.35" cy="39.73" r="1.15" fill="#9a3042"/>
<circle cx="228.95" cy="47.31" r="1.15" fill="#9a3042"/>
<circle cx="234.35" cy="46.32" r="1.15" fill="#9a3042"/>
<line x1="231.55" y1="56.20" x2="231.55" y2="57.50" stroke="#444" stroke-width="0.6"/>
<text x="231.95" y="62.10" font-size="3.8" text-anchor="end" font-weight="normal" fill="#111" stroke="#111" stroke-width="0.1" transform="rotate(-45 231.95 62.10)">CT+MFLX</text>
<line x1="243.65" y1="13.88" x2="243.65" y2="20.80" stroke="#eea04a" stroke-width="0.7"/>
<line x1="242.05" y1="13.88" x2="245.25" y2="13.88" stroke="#eea04a" stroke-width="0.7"/>
<rect x="239.90" y="20.80" width="7.50" height="35.40" fill="none" stroke="#f2b062" stroke-width="1.0"/>
<circle cx="243.65" cy="13.88" r="1.15" fill="#eea04a"/>
<circle cx="243.65" cy="17.34" r="1.15" fill="#eea04a"/>
<circle cx="243.65" cy="19.48" r="1.15" fill="#eea04a"/>
<circle cx="243.65" cy="22.11" r="1.15" fill="#eea04a"/>
<circle cx="243.65" cy="29.69" r="1.15" fill="#eea04a"/>
<line x1="243.65" y1="56.20" x2="243.65" y2="57.50" stroke="#444" stroke-width="0.6"/>
<text x="244.05" y="62.10" font-size="3.8" text-anchor="end" font-weight="normal" fill="#111" stroke="#111" stroke-width="0.1" transform="rotate(-45 244.05 62.10)">GK</text>
<line x1="255.95" y1="27.05" x2="255.95" y2="36.28" stroke="#7c5494" stroke-width="0.7"/>
<line x1="254.35" y1="27.05" x2="257.55" y2="27.05" stroke="#7c5494" stroke-width="0.7"/>
<rect x="252.20" y="36.28" width="7.50" height="19.92" fill="none" stroke="#9c78b4" stroke-width="1.0"/>
<circle cx="253.15" cy="32.98" r="1.15" fill="#7c5494"/>
<circle cx="258.75" cy="32.98" r="1.15" fill="#7c5494"/>
<circle cx="255.95" cy="42.04" r="1.15" fill="#7c5494"/>
<circle cx="255.95" cy="44.84" r="1.15" fill="#7c5494"/>
<line x1="255.95" y1="56.20" x2="255.95" y2="57.50" stroke="#444" stroke-width="0.6"/>
<text x="256.35" y="62.10" font-size="3.8" text-anchor="end" font-weight="normal" fill="#111" stroke="#111" stroke-width="0.1" transform="rotate(-45 256.35 62.10)">GK+MFLX</text>
<line x1="219.50" y1="8.00" x2="231.90" y2="8.00" stroke="#555" stroke-width="0.55"/>
<text x="225.70" y="5.70" font-size="4.2" text-anchor="middle" font-weight="normal" fill="#111" stroke="#111" stroke-width="0.1">ns</text>
<line x1="243.50" y1="8.00" x2="255.80" y2="8.00" stroke="#555" stroke-width="0.55"/>
<circle cx="248.15" cy="4.70" r="1.05" fill="#151515"/>
<circle cx="251.15" cy="4.70" r="1.05" fill="#151515"/>
<text x="204.30" y="31.50" font-size="4.3" text-anchor="middle" font-weight="normal" fill="#111" stroke="#111" stroke-width="0.1" transform="rotate(-90 204.30 31.50)">Insulin(ng/L)</text>
<line x1="285.80" y1="7.70" x2="285.80" y2="56.20" stroke="#444" stroke-width="0.6"/>
<line x1="283.80" y1="56.20" x2="285.80" y2="56.20" stroke="#444" stroke-width="0.6"/>
<text x="283.40" y="57.78" font-size="4.4" text-anchor="end" font-weight="normal" fill="#111" stroke="#111" stroke-width="0.1">0</text>
<line x1="283.80" y1="46.50" x2="285.80" y2="46.50" stroke="#444" stroke-width="0.6"/>
<text x="283.40" y="48.08" font-size="4.4" text-anchor="end" font-weight="normal" fill="#111" stroke="#111" stroke-width="0.1">2</text>
<line x1="283.80" y1="36.80" x2="285.80" y2="36.80" stroke="#444" stroke-width="0.6"/>
<text x="283.40" y="38.38" font-size="4.4" text-anchor="end" font-weight="normal" fill="#111" stroke="#111" stroke-width="0.1">4</text>
<line x1="283.80" y1="27.10" x2="285.80" y2="27.10" stroke="#444" stroke-width="0.6"/>
<text x="283.40" y="28.68" font-size="4.4" text-anchor="end" font-weight="normal" fill="#111" stroke="#111" stroke-width="0.1">6</text>
<line x1="283.80" y1="17.40" x2="285.80" y2="17.40" stroke="#444" stroke-width="0.6"/>
<text x="283.40" y="18.98" font-size="4.4" text-anchor="end" font-weight="normal" fill="#111" stroke="#111" stroke-width="0.1">8</text>
<line x1="283.80" y1="7.70" x2="285.80" y2="7.70" stroke="#444" stroke-width="0.6"/>
<text x="283.40" y="9.28" font-size="4.4" text-anchor="end" font-weight="normal" fill="#111" stroke="#111" stroke-width="0.1">10</text>
<line x1="285.80" y1="56.20" x2="335.30" y2="56.20" stroke="#444" stroke-width="0.6"/>
<line x1="293.00" y1="20.26" x2="293.00" y2="23.41" stroke="#262f78" stroke-width="0.7"/>
<line x1="291.40" y1="20.26" x2="294.60" y2="20.26" stroke="#262f78" stroke-width="0.7"/>
<rect x="289.50" y="23.41" width="7.00" height="32.79" fill="none" stroke="#262f78" stroke-width="1.0"/>
<circle cx="293.00" cy="17.11" r="1.15" fill="#262f78"/>
<circle cx="290.40" cy="23.71" r="1.15" fill="#262f78"/>
<circle cx="293.00" cy="24.43" r="1.15" fill="#262f78"/>
<circle cx="295.60" cy="24.68" r="1.15" fill="#262f78"/>
<circle cx="290.40" cy="26.13" r="1.15" fill="#262f78"/>
<line x1="293.00" y1="56.20" x2="293.00" y2="57.50" stroke="#444" stroke-width="0.6"/>
<text x="293.40" y="62.10" font-size="3.8" text-anchor="end" font-weight="normal" fill="#111" stroke="#111" stroke-width="0.1" transform="rotate(-45 293.40 62.10)">CT</text>
<line x1="304.90" y1="17.69" x2="304.90" y2="18.18" stroke="#9a3042" stroke-width="0.7"/>
<line x1="303.30" y1="17.69" x2="306.50" y2="17.69" stroke="#9a3042" stroke-width="0.7"/>
<rect x="301.30" y="18.18" width="7.20" height="38.02" fill="none" stroke="#a54050" stroke-width="1.0"/>
<circle cx="302.30" cy="17.88" r="1.15" fill="#9a3042"/>
<circle cx="307.50" cy="17.88" r="1.15" fill="#9a3042"/>
<circle cx="304.90" cy="18.86" r="1.15" fill="#9a3042"/>
<circle cx="302.50" cy="22.59" r="1.15" fill="#9a3042"/>
<circle cx="307.50" cy="21.28" r="1.15" fill="#9a3042"/>
<line x1="304.90" y1="56.20" x2="304.90" y2="57.50" stroke="#444" stroke-width="0.6"/>
<text x="305.30" y="62.10" font-size="3.8" text-anchor="end" font-weight="normal" fill="#111" stroke="#111" stroke-width="0.1" transform="rotate(-45 305.30 62.10)">CT+MFLX</text>
<rect x="313.20" y="34.71" width="7.20" height="21.49" fill="none" stroke="#f2b062" stroke-width="1.0"/>
<circle cx="314.60" cy="34.13" r="1.15" fill="#eea04a"/>
<circle cx="317.30" cy="34.62" r="1.15" fill="#eea04a"/>
<circle cx="319.40" cy="35.59" r="1.15" fill="#eea04a"/>
<circle cx="315.80" cy="35.35" r="1.15" fill="#eea04a"/>
<line x1="316.80" y1="56.20" x2="316.80" y2="57.50" stroke="#444" stroke-width="0.6"/>
<text x="317.20" y="62.10" font-size="3.8" text-anchor="end" font-weight="normal" fill="#111" stroke="#111" stroke-width="0.1" transform="rotate(-45 317.20 62.10)">GK</text>
<line x1="328.70" y1="38.45" x2="328.70" y2="39.90" stroke="#7c5494" stroke-width="0.7"/>
<line x1="327.10" y1="38.45" x2="330.30" y2="38.45" stroke="#7c5494" stroke-width="0.7"/>
<rect x="325.10" y="39.90" width="7.20" height="16.30" fill="none" stroke="#9c78b4" stroke-width="1.0"/>
<circle cx="326.10" cy="39.95" r="1.15" fill="#7c5494"/>
<circle cx="331.50" cy="40.20" r="1.15" fill="#7c5494"/>
<circle cx="328.70" cy="41.65" r="1.15" fill="#7c5494"/>
<circle cx="326.10" cy="46.31" r="1.15" fill="#7c5494"/>
<circle cx="331.50" cy="46.31" r="1.15" fill="#7c5494"/>
<line x1="328.70" y1="56.20" x2="328.70" y2="57.50" stroke="#444" stroke-width="0.6"/>
<text x="329.10" y="62.10" font-size="3.8" text-anchor="end" font-weight="normal" fill="#111" stroke="#111" stroke-width="0.1" transform="rotate(-45 329.10 62.10)">GK+MFLX</text>
<line x1="292.80" y1="12.05" x2="305.20" y2="12.05" stroke="#555" stroke-width="0.55"/>
<text x="299.00" y="9.75" font-size="4.2" text-anchor="middle" font-weight="normal" fill="#111" stroke="#111" stroke-width="0.1">ns</text>
<line x1="316.80" y1="12.05" x2="329.20" y2="12.05" stroke="#555" stroke-width="0.55"/>
<circle cx="321.50" cy="8.75" r="1.05" fill="#151515"/>
<circle cx="324.50" cy="8.75" r="1.05" fill="#151515"/>
<text x="274.50" y="31.95" font-size="4.0" text-anchor="middle" font-weight="normal" fill="#111" stroke="#111" stroke-width="0.1" transform="rotate(-90 274.50 31.95)">GLP-1(pM)</text>
<line x1="356.40" y1="8.20" x2="356.40" y2="56.20" stroke="#444" stroke-width="0.6"/>
<line x1="354.40" y1="56.20" x2="356.40" y2="56.20" stroke="#444" stroke-width="0.6"/>
<text x="354.00" y="57.78" font-size="4.4" text-anchor="end" font-weight="normal" fill="#111" stroke="#111" stroke-width="0.1">0</text>
<line x1="354.40" y1="44.20" x2="356.40" y2="44.20" stroke="#444" stroke-width="0.6"/>
<text x="354.00" y="45.78" font-size="4.4" text-anchor="end" font-weight="normal" fill="#111" stroke="#111" stroke-width="0.1">50</text>
<line x1="354.40" y1="32.20" x2="356.40" y2="32.20" stroke="#444" stroke-width="0.6"/>
<text x="354.00" y="33.78" font-size="4.4" text-anchor="end" font-weight="normal" fill="#111" stroke="#111" stroke-width="0.1">100</text>
<line x1="354.40" y1="20.20" x2="356.40" y2="20.20" stroke="#444" stroke-width="0.6"/>
<text x="354.00" y="21.78" font-size="4.4" text-anchor="end" font-weight="normal" fill="#111" stroke="#111" stroke-width="0.1">150</text>
<line x1="354.40" y1="8.20" x2="356.40" y2="8.20" stroke="#444" stroke-width="0.6"/>
<text x="354.00" y="9.78" font-size="4.4" text-anchor="end" font-weight="normal" fill="#111" stroke="#111" stroke-width="0.1">200</text>
<line x1="356.40" y1="56.20" x2="407.10" y2="56.20" stroke="#444" stroke-width="0.6"/>
<line x1="365.30" y1="15.40" x2="365.30" y2="20.20" stroke="#262f78" stroke-width="0.7"/>
<line x1="363.70" y1="15.40" x2="366.90" y2="15.40" stroke="#262f78" stroke-width="0.7"/>
<rect x="361.70" y="20.20" width="7.20" height="36.00" fill="none" stroke="#262f78" stroke-width="1.0"/>
<circle cx="365.30" cy="13.00" r="1.15" fill="#262f78"/>
<circle cx="362.70" cy="21.40" r="1.15" fill="#262f78"/>
<circle cx="367.90" cy="21.88" r="1.15" fill="#262f78"/>
<circle cx="365.30" cy="22.60" r="1.15" fill="#262f78"/>
<circle cx="365.30" cy="29.08" r="1.15" fill="#262f78"/>
<line x1="365.30" y1="56.20" x2="365.30" y2="57.50" stroke="#444" stroke-width="0.6"/>
<text x="365.70" y="62.10" font-size="3.8" text-anchor="end" font-weight="normal" fill="#111" stroke="#111" stroke-width="0.1" transform="rotate(-45 365.70 62.10)">CT</text>
<line x1="377.05" y1="25.96" x2="377.05" y2="31.72" stroke="#9a3042" stroke-width="0.7"/>
<line x1="375.45" y1="25.96" x2="378.65" y2="25.96" stroke="#9a3042" stroke-width="0.7"/>
<rect x="373.60" y="31.72" width="6.90" height="24.48" fill="none" stroke="#a54050" stroke-width="1.0"/>
<circle cx="377.05" cy="25.72" r="1.15" fill="#9a3042"/>
<circle cx="374.25" cy="29.80" r="1.15" fill="#9a3042"/>
<circle cx="379.85" cy="29.80" r="1.15" fill="#9a3042"/>
<circle cx="377.05" cy="32.20" r="1.15" fill="#9a3042"/>
<circle cx="377.05" cy="41.32" r="1.15" fill="#9a3042"/>
<line x1="377.05" y1="56.20" x2="377.05" y2="57.50" stroke="#444" stroke-width="0.6"/>
<text x="377.45" y="62.10" font-size="3.8" text-anchor="end" font-weight="normal" fill="#111" stroke="#111" stroke-width="0.1" transform="rotate(-45 377.45 62.10)">CT+MFLX</text>
<line x1="388.60" y1="18.28" x2="388.60" y2="25.48" stroke="#eea04a" stroke-width="0.7"/>
<line x1="387.00" y1="18.28" x2="390.20" y2="18.28" stroke="#eea04a" stroke-width="0.7"/>
<rect x="385.00" y="25.48" width="7.20" height="30.72" fill="none" stroke="#f2b062" stroke-width="1.0"/>
<circle cx="386.00" cy="18.28" r="1.15" fill="#eea04a"/>
<circle cx="391.20" cy="18.52" r="1.15" fill="#eea04a"/>
<circle cx="386.80" cy="28.36" r="1.15" fill="#eea04a"/>
<circle cx="390.40" cy="28.36" r="1.15" fill="#eea04a"/>
<circle cx="388.60" cy="32.20" r="1.15" fill="#eea04a"/>
<line x1="388.60" y1="56.20" x2="388.60" y2="57.50" stroke="#444" stroke-width="0.6"/>
<text x="389.00" y="62.10" font-size="3.8" text-anchor="end" font-weight="normal" fill="#111" stroke="#111" stroke-width="0.1" transform="rotate(-45 389.00 62.10)">GK</text>
<line x1="400.50" y1="35.56" x2="400.50" y2="39.16" stroke="#7c5494" stroke-width="0.7"/>
<line x1="398.90" y1="35.56" x2="402.10" y2="35.56" stroke="#7c5494" stroke-width="0.7"/>
<rect x="396.90" y="39.16" width="7.20" height="17.04" fill="none" stroke="#9c78b4" stroke-width="1.0"/>
<circle cx="400.50" cy="34.84" r="1.15" fill="#7c5494"/>
<circle cx="397.70" cy="37.96" r="1.15" fill="#7c5494"/>
<circle cx="403.30" cy="37.96" r="1.15" fill="#7c5494"/>
<circle cx="400.50" cy="40.12" r="1.15" fill="#7c5494"/>
<line x1="400.50" y1="56.20" x2="400.50" y2="57.50" stroke="#444" stroke-width="0.6"/>
<text x="400.90" y="62.10" font-size="3.8" text-anchor="end" font-weight="normal" fill="#111" stroke="#111" stroke-width="0.1" transform="rotate(-45 400.90 62.10)">GK+MFLX</text>
<line x1="365.30" y1="7.00" x2="377.20" y2="7.00" stroke="#555" stroke-width="0.55"/>
<circle cx="371.25" cy="3.70" r="1.05" fill="#151515"/>
<line x1="388.20" y1="7.00" x2="400.10" y2="7.00" stroke="#555" stroke-width="0.55"/>
<circle cx="392.65" cy="3.70" r="1.05" fill="#151515"/>
<circle cx="395.65" cy="3.70" r="1.05" fill="#151515"/>
<text x="346.20" y="29.50" font-size="4.0" text-anchor="middle" font-weight="normal" fill="#111" stroke="#111" stroke-width="0.1" transform="rotate(-90 346.20 29.50)">FGF15(pg/mL)</text>
<text x="116.50" y="78.50" font-size="8" text-anchor="start" font-weight="bold" fill="#0a0a0a">D</text>
<line x1="141.40" y1="82.20" x2="141.40" y2="133.00" stroke="#444" stroke-width="0.6"/>
<line x1="139.40" y1="133.00" x2="141.40" y2="133.00" stroke="#444" stroke-width="0.6"/>
<text x="139.00" y="134.58" font-size="4.4" text-anchor="end" font-weight="normal" fill="#111" stroke="#111" stroke-width="0.1">0</text>
<line x1="139.40" y1="116.07" x2="141.40" y2="116.07" stroke="#444" stroke-width="0.6"/>
<text x="139.00" y="117.65" font-size="4.4" text-anchor="end" font-weight="normal" fill="#111" stroke="#111" stroke-width="0.1">5</text>
<line x1="139.40" y1="99.13" x2="141.40" y2="99.13" stroke="#444" stroke-width="0.6"/>
<text x="139.00" y="100.72" font-size="4.4" text-anchor="end" font-weight="normal" fill="#111" stroke="#111" stroke-width="0.1">10</text>
<line x1="139.40" y1="82.20" x2="141.40" y2="82.20" stroke="#444" stroke-width="0.6"/>
<text x="139.00" y="83.78" font-size="4.4" text-anchor="end" font-weight="normal" fill="#111" stroke="#111" stroke-width="0.1">15</text>
<line x1="141.40" y1="133.00" x2="190.90" y2="133.00" stroke="#444" stroke-width="0.6"/>
<rect x="145.00" y="115.05" width="7.00" height="17.95" fill="none" stroke="#262f78" stroke-width="1.0"/>
<circle cx="146.30" cy="114.71" r="1.15" fill="#262f78"/>
<circle cx="148.50" cy="114.37" r="1.15" fill="#262f78"/>
<circle cx="150.70" cy="114.71" r="1.15" fill="#262f78"/>
<circle cx="147.50" cy="115.39" r="1.15" fill="#262f78"/>
<circle cx="149.50" cy="115.05" r="1.15" fill="#262f78"/>
<line x1="148.50" y1="133.00" x2="148.50" y2="134.30" stroke="#444" stroke-width="0.6"/>
<text x="148.90" y="139.10" font-size="3.8" text-anchor="end" font-weight="normal" fill="#111" stroke="#111" stroke-width="0.1" transform="rotate(-45 148.90 139.10)">CT</text>
<rect x="157.10" y="113.70" width="7.00" height="19.30" fill="none" stroke="#a54050" stroke-width="1.0"/>
<circle cx="158.40" cy="113.36" r="1.15" fill="#9a3042"/>
<circle cx="160.60" cy="112.68" r="1.15" fill="#9a3042"/>
<circle cx="162.80" cy="113.02" r="1.15" fill="#9a3042"/>
<circle cx="159.60" cy="114.37" r="1.15" fill="#9a3042"/>
<circle cx="161.60" cy="114.37" r="1.15" fill="#9a3042"/>
<line x1="160.60" y1="133.00" x2="160.60" y2="134.30" stroke="#444" stroke-width="0.6"/>
<text x="161.00" y="139.10" font-size="3.8" text-anchor="end" font-weight="normal" fill="#111" stroke="#111" stroke-width="0.1" transform="rotate(-45 161.00 139.10)">CT+MFLX</text>
<rect x="168.80" y="100.49" width="7.00" height="32.51" fill="none" stroke="#f2b062" stroke-width="1.0"/>
<circle cx="170.10" cy="99.13" r="1.15" fill="#eea04a"/>
<circle cx="174.50" cy="99.81" r="1.15" fill="#eea04a"/>
<circle cx="172.30" cy="100.83" r="1.15" fill="#eea04a"/>
<circle cx="171.30" cy="102.52" r="1.15" fill="#eea04a"/>
<circle cx="172.30" cy="104.21" r="1.15" fill="#eea04a"/>
<line x1="172.30" y1="133.00" x2="172.30" y2="134.30" stroke="#444" stroke-width="0.6"/>
<text x="172.70" y="139.10" font-size="3.8" text-anchor="end" font-weight="normal" fill="#111" stroke="#111" stroke-width="0.1" transform="rotate(-45 172.70 139.10)">GK</text>
<line x1="184.30" y1="91.68" x2="184.30" y2="95.75" stroke="#7c5494" stroke-width="0.7"/>
<line x1="182.70" y1="91.68" x2="185.90" y2="91.68" stroke="#7c5494" stroke-width="0.7"/>
<rect x="180.70" y="95.75" width="7.20" height="37.25" fill="none" stroke="#9c78b4" stroke-width="1.0"/>
<circle cx="182.10" cy="92.36" r="1.15" fill="#7c5494"/>
<circle cx="186.50" cy="92.36" r="1.15" fill="#7c5494"/>
<circle cx="184.30" cy="95.75" r="1.15" fill="#7c5494"/>
<circle cx="182.10" cy="97.44" r="1.15" fill="#7c5494"/>
<circle cx="186.50" cy="97.10" r="1.15" fill="#7c5494"/>
<line x1="184.30" y1="133.00" x2="184.30" y2="134.30" stroke="#444" stroke-width="0.6"/>
<text x="184.70" y="139.10" font-size="3.8" text-anchor="end" font-weight="normal" fill="#111" stroke="#111" stroke-width="0.1" transform="rotate(-45 184.70 139.10)">GK+MFLX</text>
<line x1="146.50" y1="85.60" x2="160.20" y2="85.60" stroke="#555" stroke-width="0.55"/>
<text x="153.35" y="83.30" font-size="4.2" text-anchor="middle" font-weight="normal" fill="#111" stroke="#111" stroke-width="0.1">ns</text>
<line x1="171.20" y1="85.60" x2="184.90" y2="85.60" stroke="#555" stroke-width="0.55"/>
<circle cx="178.05" cy="82.30" r="1.05" fill="#151515"/>
<text x="131.50" y="108.50" font-size="4.3" text-anchor="middle" font-weight="normal" fill="#111" stroke="#111" stroke-width="0.1" transform="rotate(-90 131.50 108.50)">Fasting blood glucose(mM)</text>
<line x1="214.90" y1="82.30" x2="214.90" y2="133.30" stroke="#444" stroke-width="0.6"/>
<line x1="212.90" y1="133.30" x2="214.90" y2="133.30" stroke="#444" stroke-width="0.6"/>
<text x="212.50" y="134.88" font-size="4.4" text-anchor="end" font-weight="normal" fill="#111" stroke="#111" stroke-width="0.1">0.0</text>
<line x1="212.90" y1="116.30" x2="214.90" y2="116.30" stroke="#444" stroke-width="0.6"/>
<text x="212.50" y="117.88" font-size="4.4" text-anchor="end" font-weight="normal" fill="#111" stroke="#111" stroke-width="0.1">0.5</text>
<line x1="212.90" y1="99.30" x2="214.90" y2="99.30" stroke="#444" stroke-width="0.6"/>
<text x="212.50" y="100.88" font-size="4.4" text-anchor="end" font-weight="normal" fill="#111" stroke="#111" stroke-width="0.1">1.0</text>
<line x1="212.90" y1="82.30" x2="214.90" y2="82.30" stroke="#444" stroke-width="0.6"/>
<text x="212.50" y="83.88" font-size="4.4" text-anchor="end" font-weight="normal" fill="#111" stroke="#111" stroke-width="0.1">1.5</text>
<line x1="214.90" y1="133.30" x2="263.30" y2="133.30" stroke="#444" stroke-width="0.6"/>
<line x1="222.20" y1="93.01" x2="222.20" y2="103.21" stroke="#262f78" stroke-width="0.7"/>
<line x1="220.60" y1="93.01" x2="223.80" y2="93.01" stroke="#262f78" stroke-width="0.7"/>
<rect x="218.60" y="103.21" width="7.20" height="30.09" fill="none" stroke="#262f78" stroke-width="1.0"/>
<circle cx="222.20" cy="92.50" r="1.15" fill="#262f78"/>
<circle cx="222.20" cy="95.90" r="1.15" fill="#262f78"/>
<circle cx="221.70" cy="106.44" r="1.15" fill="#262f78"/>
<circle cx="219.60" cy="108.82" r="1.15" fill="#262f78"/>
<circle cx="224.80" cy="108.82" r="1.15" fill="#262f78"/>
<line x1="222.20" y1="133.30" x2="222.20" y2="134.60" stroke="#444" stroke-width="0.6"/>
<text x="222.60" y="139.10" font-size="3.8" text-anchor="end" font-weight="normal" fill="#111" stroke="#111" stroke-width="0.1" transform="rotate(-45 222.60 139.10)">CT</text>
<line x1="233.45" y1="102.19" x2="233.45" y2="107.97" stroke="#9a3042" stroke-width="0.7"/>
<line x1="231.85" y1="102.19" x2="235.05" y2="102.19" stroke="#9a3042" stroke-width="0.7"/>
<rect x="229.80" y="107.97" width="7.30" height="25.33" fill="none" stroke="#a54050" stroke-width="1.0"/>
<circle cx="231.25" cy="102.02" r="1.15" fill="#9a3042"/>
<circle cx="235.85" cy="103.21" r="1.15" fill="#9a3042"/>
<circle cx="231.25" cy="110.18" r="1.15" fill="#9a3042"/>
<circle cx="235.85" cy="110.86" r="1.15" fill="#9a3042"/>
<circle cx="233.45" cy="114.94" r="1.15" fill="#9a3042"/>
<line x1="233.45" y1="133.30" x2="233.45" y2="134.60" stroke="#444" stroke-width="0.6"/>
<text x="233.85" y="139.10" font-size="3.8" text-anchor="end" font-weight="normal" fill="#111" stroke="#111" stroke-width="0.1" transform="rotate(-45 233.85 139.10)">CT+MFLX</text>
<line x1="245.20" y1="107.46" x2="245.20" y2="114.26" stroke="#eea04a" stroke-width="0.7"/>
<line x1="243.60" y1="107.46" x2="246.80" y2="107.46" stroke="#eea04a" stroke-width="0.7"/>
<rect x="241.60" y="114.26" width="7.20" height="19.04" fill="none" stroke="#f2b062" stroke-width="1.0"/>
<circle cx="245.20" cy="107.12" r="1.15" fill="#eea04a"/>
<circle cx="245.20" cy="109.50" r="1.15" fill="#eea04a"/>
<circle cx="242.60" cy="114.60" r="1.15" fill="#eea04a"/>
<circle cx="247.80" cy="114.60" r="1.15" fill="#eea04a"/>
<circle cx="245.20" cy="119.02" r="1.15" fill="#eea04a"/>
<line x1="245.20" y1="133.30" x2="245.20" y2="134.60" stroke="#444" stroke-width="0.6"/>
<text x="245.60" y="139.10" font-size="3.8" text-anchor="end" font-weight="normal" fill="#111" stroke="#111" stroke-width="0.1" transform="rotate(-45 245.60 139.10)">GK</text>
<line x1="256.70" y1="114.26" x2="256.70" y2="115.62" stroke="#7c5494" stroke-width="0.7"/>
<line x1="255.10" y1="114.26" x2="258.30" y2="114.26" stroke="#7c5494" stroke-width="0.7"/>
<rect x="253.10" y="115.62" width="7.20" height="17.68" fill="none" stroke="#9c78b4" stroke-width="1.0"/>
<circle cx="253.90" cy="116.64" r="1.15" fill="#7c5494"/>
<circle cx="255.90" cy="114.60" r="1.15" fill="#7c5494"/>
<circle cx="257.90" cy="114.26" r="1.15" fill="#7c5494"/>
<circle cx="259.50" cy="115.62" r="1.15" fill="#7c5494"/>
<circle cx="256.70" cy="116.30" r="1.15" fill="#7c5494"/>
<line x1="256.70" y1="133.30" x2="256.70" y2="134.60" stroke="#444" stroke-width="0.6"/>
<text x="257.10" y="139.10" font-size="3.8" text-anchor="end" font-weight="normal" fill="#111" stroke="#111" stroke-width="0.1" transform="rotate(-45 257.10 139.10)">GK+MFLX</text>
<line x1="222.00" y1="86.10" x2="233.90" y2="86.10" stroke="#555" stroke-width="0.55"/>
<text x="227.95" y="83.80" font-size="4.2" text-anchor="middle" font-weight="normal" fill="#111" stroke="#111" stroke-width="0.1">ns</text>
<line x1="245.20" y1="86.10" x2="256.70" y2="86.10" stroke="#555" stroke-width="0.55"/>
<text x="250.95" y="83.80" font-size="4.2" text-anchor="middle" font-weight="normal" fill="#111" stroke="#111" stroke-width="0.1">ns</text>
<text x="203.60" y="109.50" font-size="4.4" text-anchor="middle" font-weight="normal" fill="#111" stroke="#111" stroke-width="0.1" transform="rotate(-90 203.60 109.50)">Insulin(ng/L)</text>
<line x1="285.40" y1="82.20" x2="285.40" y2="133.00" stroke="#444" stroke-width="0.6"/>
<line x1="283.40" y1="133.00" x2="285.40" y2="133.00" stroke="#444" stroke-width="0.6"/>
<text x="283.00" y="134.58" font-size="4.4" text-anchor="end" font-weight="normal" fill="#111" stroke="#111" stroke-width="0.1">0</text>
<line x1="283.40" y1="116.07" x2="285.40" y2="116.07" stroke="#444" stroke-width="0.6"/>
<text x="283.00" y="117.65" font-size="4.4" text-anchor="end" font-weight="normal" fill="#111" stroke="#111" stroke-width="0.1">5</text>
<line x1="283.40" y1="99.13" x2="285.40" y2="99.13" stroke="#444" stroke-width="0.6"/>
<text x="283.00" y="100.72" font-size="4.4" text-anchor="end" font-weight="normal" fill="#111" stroke="#111" stroke-width="0.1">10</text>
<line x1="283.40" y1="82.20" x2="285.40" y2="82.20" stroke="#444" stroke-width="0.6"/>
<text x="283.00" y="83.78" font-size="4.4" text-anchor="end" font-weight="normal" fill="#111" stroke="#111" stroke-width="0.1">15</text>
<line x1="285.40" y1="133.00" x2="336.80" y2="133.00" stroke="#444" stroke-width="0.6"/>
<line x1="293.40" y1="101.17" x2="293.40" y2="107.94" stroke="#262f78" stroke-width="0.7"/>
<line x1="291.80" y1="101.17" x2="295.00" y2="101.17" stroke="#262f78" stroke-width="0.7"/>
<rect x="289.50" y="107.94" width="7.80" height="25.06" fill="none" stroke="#262f78" stroke-width="1.0"/>
<circle cx="293.40" cy="101.00" r="1.15" fill="#262f78"/>
<circle cx="293.40" cy="103.71" r="1.15" fill="#262f78"/>
<circle cx="290.60" cy="112.68" r="1.15" fill="#262f78"/>
<circle cx="296.20" cy="112.68" r="1.15" fill="#262f78"/>
<circle cx="293.40" cy="108.28" r="1.15" fill="#262f78"/>
<line x1="293.40" y1="133.00" x2="293.40" y2="134.30" stroke="#444" stroke-width="0.6"/>
<text x="293.80" y="138.60" font-size="3.8" text-anchor="end" font-weight="normal" fill="#111" stroke="#111" stroke-width="0.1" transform="rotate(-45 293.80 138.60)">CT</text>
<line x1="305.60" y1="101.67" x2="305.60" y2="103.71" stroke="#9a3042" stroke-width="0.7"/>
<line x1="304.00" y1="101.67" x2="307.20" y2="101.67" stroke="#9a3042" stroke-width="0.7"/>
<rect x="301.80" y="103.71" width="7.60" height="29.29" fill="none" stroke="#a54050" stroke-width="1.0"/>
<circle cx="303.40" cy="102.01" r="1.15" fill="#9a3042"/>
<circle cx="305.60" cy="100.83" r="1.15" fill="#9a3042"/>
<circle cx="307.80" cy="102.18" r="1.15" fill="#9a3042"/>
<circle cx="305.60" cy="104.55" r="1.15" fill="#9a3042"/>
<circle cx="305.60" cy="112.00" r="1.15" fill="#9a3042"/>
<line x1="305.60" y1="133.00" x2="305.60" y2="134.30" stroke="#444" stroke-width="0.6"/>
<text x="306.00" y="138.60" font-size="3.8" text-anchor="end" font-weight="normal" fill="#111" stroke="#111" stroke-width="0.1" transform="rotate(-45 306.00 138.60)">CT+MFLX</text>
<line x1="317.80" y1="117.76" x2="317.80" y2="120.81" stroke="#eea04a" stroke-width="0.7"/>
<line x1="316.20" y1="117.76" x2="319.40" y2="117.76" stroke="#eea04a" stroke-width="0.7"/>
<rect x="314.10" y="120.81" width="7.40" height="12.19" fill="none" stroke="#f2b062" stroke-width="1.0"/>
<circle cx="316.00" cy="117.76" r="1.15" fill="#eea04a"/>
<circle cx="318.30" cy="117.42" r="1.15" fill="#eea04a"/>
<circle cx="320.00" cy="118.78" r="1.15" fill="#eea04a"/>
<circle cx="315.60" cy="122.84" r="1.15" fill="#eea04a"/>
<circle cx="320.00" cy="122.84" r="1.15" fill="#eea04a"/>
<line x1="317.80" y1="133.00" x2="317.80" y2="134.30" stroke="#444" stroke-width="0.6"/>
<text x="318.20" y="138.60" font-size="3.8" text-anchor="end" font-weight="normal" fill="#111" stroke="#111" stroke-width="0.1" transform="rotate(-45 318.20 138.60)">GK</text>
<line x1="330.10" y1="120.13" x2="330.10" y2="122.84" stroke="#7c5494" stroke-width="0.7"/>
<line x1="328.50" y1="120.13" x2="331.70" y2="120.13" stroke="#7c5494" stroke-width="0.7"/>
<rect x="326.40" y="122.84" width="7.40" height="10.16" fill="none" stroke="#9c78b4" stroke-width="1.0"/>
<circle cx="327.90" cy="118.78" r="1.15" fill="#7c5494"/>
<circle cx="330.30" cy="119.11" r="1.15" fill="#7c5494"/>
<circle cx="327.90" cy="122.50" r="1.15" fill="#7c5494"/>
<circle cx="330.30" cy="122.84" r="1.15" fill="#7c5494"/>
<circle cx="332.50" cy="122.50" r="1.15" fill="#7c5494"/>
<line x1="330.10" y1="133.00" x2="330.10" y2="134.30" stroke="#444" stroke-width="0.6"/>
<text x="330.50" y="138.60" font-size="3.8" text-anchor="end" font-weight="normal" fill="#111" stroke="#111" stroke-width="0.1" transform="rotate(-45 330.50 138.60)">GK+MFLX</text>
<line x1="291.50" y1="93.60" x2="305.20" y2="93.60" stroke="#555" stroke-width="0.55"/>
<text x="298.35" y="91.30" font-size="4.2" text-anchor="middle" font-weight="normal" fill="#111" stroke="#111" stroke-width="0.1">ns</text>
<line x1="318.90" y1="93.60" x2="331.20" y2="93.60" stroke="#555" stroke-width="0.55"/>
<text x="325.05" y="91.30" font-size="4.2" text-anchor="middle" font-weight="normal" fill="#111" stroke="#111" stroke-width="0.1">ns</text>
<text x="275.00" y="107.60" font-size="4.0" text-anchor="middle" font-weight="normal" fill="#111" stroke="#111" stroke-width="0.1" transform="rotate(-90 275.00 107.60)">GLP-1(pM)</text>
<line x1="357.40" y1="82.20" x2="357.40" y2="132.80" stroke="#444" stroke-width="0.6"/>
<line x1="355.40" y1="132.80" x2="357.40" y2="132.80" stroke="#444" stroke-width="0.6"/>
<text x="355.00" y="134.38" font-size="4.4" text-anchor="end" font-weight="normal" fill="#111" stroke="#111" stroke-width="0.1">0</text>
<line x1="355.40" y1="120.15" x2="357.40" y2="120.15" stroke="#444" stroke-width="0.6"/>
<text x="355.00" y="121.73" font-size="4.4" text-anchor="end" font-weight="normal" fill="#111" stroke="#111" stroke-width="0.1">50</text>
<line x1="355.40" y1="107.50" x2="357.40" y2="107.50" stroke="#444" stroke-width="0.6"/>
<text x="355.00" y="109.08" font-size="4.4" text-anchor="end" font-weight="normal" fill="#111" stroke="#111" stroke-width="0.1">100</text>
<line x1="355.40" y1="94.85" x2="357.40" y2="94.85" stroke="#444" stroke-width="0.6"/>
<text x="355.00" y="96.43" font-size="4.4" text-anchor="end" font-weight="normal" fill="#111" stroke="#111" stroke-width="0.1">150</text>
<line x1="355.40" y1="82.20" x2="357.40" y2="82.20" stroke="#444" stroke-width="0.6"/>
<text x="355.00" y="83.78" font-size="4.4" text-anchor="end" font-weight="normal" fill="#111" stroke="#111" stroke-width="0.1">200</text>
<line x1="357.40" y1="132.80" x2="407.50" y2="132.80" stroke="#444" stroke-width="0.6"/>
<line x1="365.45" y1="93.08" x2="365.45" y2="98.14" stroke="#262f78" stroke-width="0.7"/>
<line x1="363.85" y1="93.08" x2="367.05" y2="93.08" stroke="#262f78" stroke-width="0.7"/>
<rect x="361.70" y="98.14" width="7.50" height="34.66" fill="none" stroke="#262f78" stroke-width="1.0"/>
<circle cx="365.45" cy="92.32" r="1.15" fill="#262f78"/>
<circle cx="362.65" cy="98.14" r="1.15" fill="#262f78"/>
<circle cx="368.25" cy="98.14" r="1.15" fill="#262f78"/>
<circle cx="362.65" cy="103.71" r="1.15" fill="#262f78"/>
<circle cx="368.25" cy="103.71" r="1.15" fill="#262f78"/>
<line x1="365.45" y1="132.80" x2="365.45" y2="134.10" stroke="#444" stroke-width="0.6"/>
<text x="365.85" y="138.60" font-size="3.8" text-anchor="end" font-weight="normal" fill="#111" stroke="#111" stroke-width="0.1" transform="rotate(-45 365.85 138.60)">CT</text>
<line x1="377.20" y1="99.91" x2="377.20" y2="105.98" stroke="#9a3042" stroke-width="0.7"/>
<line x1="375.60" y1="99.91" x2="378.80" y2="99.91" stroke="#9a3042" stroke-width="0.7"/>
<rect x="373.60" y="105.98" width="7.20" height="26.82" fill="none" stroke="#a54050" stroke-width="1.0"/>
<circle cx="377.20" cy="97.38" r="1.15" fill="#9a3042"/>
<circle cx="374.80" cy="106.49" r="1.15" fill="#9a3042"/>
<circle cx="379.60" cy="106.49" r="1.15" fill="#9a3042"/>
<circle cx="377.20" cy="106.74" r="1.15" fill="#9a3042"/>
<circle cx="376.20" cy="105.73" r="1.15" fill="#9a3042"/>
<circle cx="378.20" cy="105.98" r="1.15" fill="#9a3042"/>
<line x1="377.20" y1="132.80" x2="377.20" y2="134.10" stroke="#444" stroke-width="0.6"/>
<text x="377.60" y="138.60" font-size="3.8" text-anchor="end" font-weight="normal" fill="#111" stroke="#111" stroke-width="0.1" transform="rotate(-45 377.60 138.60)">CT+MFLX</text>
<line x1="388.90" y1="96.12" x2="388.90" y2="99.15" stroke="#eea04a" stroke-width="0.7"/>
<line x1="387.30" y1="96.12" x2="390.50" y2="96.12" stroke="#eea04a" stroke-width="0.7"/>
<rect x="385.30" y="99.15" width="7.20" height="33.65" fill="none" stroke="#f2b062" stroke-width="1.0"/>
<circle cx="388.90" cy="95.61" r="1.15" fill="#eea04a"/>
<circle cx="386.70" cy="99.40" r="1.15" fill="#eea04a"/>
<circle cx="391.10" cy="99.40" r="1.15" fill="#eea04a"/>
<circle cx="388.90" cy="101.18" r="1.15" fill="#eea04a"/>
<circle cx="388.90" cy="103.20" r="1.15" fill="#eea04a"/>
<line x1="388.90" y1="132.80" x2="388.90" y2="134.10" stroke="#444" stroke-width="0.6"/>
<text x="389.30" y="138.60" font-size="3.8" text-anchor="end" font-weight="normal" fill="#111" stroke="#111" stroke-width="0.1" transform="rotate(-45 389.30 138.60)">GK</text>
<line x1="400.90" y1="102.95" x2="400.90" y2="103.96" stroke="#7c5494" stroke-width="0.7"/>
<line x1="399.30" y1="102.95" x2="402.50" y2="102.95" stroke="#7c5494" stroke-width="0.7"/>
<rect x="397.30" y="103.96" width="7.20" height="28.84" fill="none" stroke="#9c78b4" stroke-width="1.0"/>
<circle cx="398.10" cy="104.72" r="1.15" fill="#7c5494"/>
<circle cx="403.70" cy="104.72" r="1.15" fill="#7c5494"/>
<circle cx="400.90" cy="105.48" r="1.15" fill="#7c5494"/>
<circle cx="400.90" cy="110.03" r="1.15" fill="#7c5494"/>
<line x1="400.90" y1="132.80" x2="400.90" y2="134.10" stroke="#444" stroke-width="0.6"/>
<text x="401.30" y="138.60" font-size="3.8" text-anchor="end" font-weight="normal" fill="#111" stroke="#111" stroke-width="0.1" transform="rotate(-45 401.30 138.60)">GK+MFLX</text>
<line x1="365.30" y1="86.10" x2="377.20" y2="86.10" stroke="#555" stroke-width="0.55"/>
<text x="371.25" y="83.80" font-size="4.2" text-anchor="middle" font-weight="normal" fill="#111" stroke="#111" stroke-width="0.1">ns</text>
<line x1="388.90" y1="86.10" x2="400.50" y2="86.10" stroke="#555" stroke-width="0.55"/>
<circle cx="394.70" cy="82.80" r="1.05" fill="#151515"/>
<text x="345.50" y="107.50" font-size="4.0" text-anchor="middle" font-weight="normal" fill="#111" stroke="#111" stroke-width="0.1" transform="rotate(-90 345.50 107.50)">FGF15(pg/mL)</text>
<text x="1.50" y="164.00" font-size="8" text-anchor="start" font-weight="bold" fill="#0a0a0a">E</text>
<text x="45.30" y="161.90" font-size="3.7" text-anchor="middle" font-weight="bold" fill="#111" stroke="#111" stroke-width="0.1">OGTT (3 d)</text>
<line x1="15.60" y1="167.20" x2="15.60" y2="210.60" stroke="#444" stroke-width="0.6"/>
<line x1="13.60" y1="210.60" x2="15.60" y2="210.60" stroke="#444" stroke-width="0.6"/>
<text x="13.20" y="212.04" font-size="4.0" text-anchor="end" font-weight="normal" fill="#111" stroke="#111" stroke-width="0.1">0</text>
<line x1="13.60" y1="199.75" x2="15.60" y2="199.75" stroke="#444" stroke-width="0.6"/>
<text x="13.20" y="201.19" font-size="4.0" text-anchor="end" font-weight="normal" fill="#111" stroke="#111" stroke-width="0.1">10</text>
<line x1="13.60" y1="188.90" x2="15.60" y2="188.90" stroke="#444" stroke-width="0.6"/>
<text x="13.20" y="190.34" font-size="4.0" text-anchor="end" font-weight="normal" fill="#111" stroke="#111" stroke-width="0.1">20</text>
<line x1="13.60" y1="178.05" x2="15.60" y2="178.05" stroke="#444" stroke-width="0.6"/>
<text x="13.20" y="179.49" font-size="4.0" text-anchor="end" font-weight="normal" fill="#111" stroke="#111" stroke-width="0.1">30</text>
<line x1="13.60" y1="167.20" x2="15.60" y2="167.20" stroke="#444" stroke-width="0.6"/>
<text x="13.20" y="168.64" font-size="4.0" text-anchor="end" font-weight="normal" fill="#111" stroke="#111" stroke-width="0.1">40</text>
<line x1="15.60" y1="210.60" x2="71.00" y2="210.60" stroke="#444" stroke-width="0.6"/>
<line x1="25.10" y1="210.60" x2="25.10" y2="211.90" stroke="#444" stroke-width="0.6"/>
<text x="25.10" y="216.60" font-size="4.0" text-anchor="middle" font-weight="normal" fill="#111" stroke="#111" stroke-width="0.1">0</text>
<line x1="45.50" y1="210.60" x2="45.50" y2="211.90" stroke="#444" stroke-width="0.6"/>
<text x="45.50" y="216.60" font-size="4.0" text-anchor="middle" font-weight="normal" fill="#111" stroke="#111" stroke-width="0.1">15</text>
<line x1="65.90" y1="210.60" x2="65.90" y2="211.90" stroke="#444" stroke-width="0.6"/>
<text x="65.90" y="216.60" font-size="4.0" text-anchor="middle" font-weight="normal" fill="#111" stroke="#111" stroke-width="0.1">30</text>
<text x="45.50" y="221.50" font-size="4.0" text-anchor="middle" font-weight="normal" fill="#111" stroke="#111" stroke-width="0.1">Time(min)</text>
<text x="5.50" y="189.00" font-size="4.0" text-anchor="middle" font-weight="normal" fill="#111" stroke="#111" stroke-width="0.1" transform="rotate(-90 5.50 189.00)">Glucose(mM)</text>
<line x1="25.10" y1="195.63" x2="25.10" y2="197.80" stroke="#eea04a" stroke-width="0.45" stroke-opacity="0.7"/>
<line x1="23.90" y1="195.63" x2="26.30" y2="195.63" stroke="#eea04a" stroke-width="0.45" stroke-opacity="0.7"/>
<line x1="23.90" y1="197.80" x2="26.30" y2="197.80" stroke="#eea04a" stroke-width="0.45" stroke-opacity="0.7"/>
<line x1="45.50" y1="183.15" x2="45.50" y2="189.66" stroke="#eea04a" stroke-width="0.45" stroke-opacity="0.7"/>
<line x1="44.30" y1="183.15" x2="46.70" y2="183.15" stroke="#eea04a" stroke-width="0.45" stroke-opacity="0.7"/>
<line x1="44.30" y1="189.66" x2="46.70" y2="189.66" stroke="#eea04a" stroke-width="0.45" stroke-opacity="0.7"/>
<line x1="65.90" y1="177.18" x2="65.90" y2="182.61" stroke="#eea04a" stroke-width="0.45" stroke-opacity="0.7"/>
<line x1="64.70" y1="177.18" x2="67.10" y2="177.18" stroke="#eea04a" stroke-width="0.45" stroke-opacity="0.7"/>
<line x1="64.70" y1="182.61" x2="67.10" y2="182.61" stroke="#eea04a" stroke-width="0.45" stroke-opacity="0.7"/>
<polyline points="25.10,196.71 45.50,186.40 65.90,179.89" fill="none" stroke="#eea04a" stroke-width="0.9"/>
<circle cx="25.10" cy="196.71" r="0.95" fill="#eea04a"/>
<circle cx="45.50" cy="186.40" r="0.95" fill="#eea04a"/>
<circle cx="65.90" cy="179.89" r="0.95" fill="#eea04a"/>
<line x1="25.10" y1="192.16" x2="25.10" y2="195.41" stroke="#7c5494" stroke-width="0.45" stroke-opacity="0.7"/>
<line x1="23.90" y1="192.16" x2="26.30" y2="192.16" stroke="#7c5494" stroke-width="0.45" stroke-opacity="0.7"/>
<line x1="23.90" y1="195.41" x2="26.30" y2="195.41" stroke="#7c5494" stroke-width="0.45" stroke-opacity="0.7"/>
<line x1="45.50" y1="177.51" x2="45.50" y2="180.76" stroke="#7c5494" stroke-width="0.45" stroke-opacity="0.7"/>
<line x1="44.30" y1="177.51" x2="46.70" y2="177.51" stroke="#7c5494" stroke-width="0.45" stroke-opacity="0.7"/>
<line x1="44.30" y1="180.76" x2="46.70" y2="180.76" stroke="#7c5494" stroke-width="0.45" stroke-opacity="0.7"/>
<line x1="65.90" y1="175.88" x2="65.90" y2="179.13" stroke="#7c5494" stroke-width="0.45" stroke-opacity="0.7"/>
<line x1="64.70" y1="175.88" x2="67.10" y2="175.88" stroke="#7c5494" stroke-width="0.45" stroke-opacity="0.7"/>
<line x1="64.70" y1="179.13" x2="67.10" y2="179.13" stroke="#7c5494" stroke-width="0.45" stroke-opacity="0.7"/>
<polyline points="25.10,193.78 45.50,179.13 65.90,177.51" fill="none" stroke="#7c5494" stroke-width="0.9"/>
<circle cx="25.10" cy="193.78" r="0.95" fill="#7c5494"/>
<circle cx="45.50" cy="179.13" r="0.95" fill="#7c5494"/>
<circle cx="65.90" cy="177.51" r="0.95" fill="#7c5494"/>
<line x1="25.10" y1="204.63" x2="25.10" y2="205.72" stroke="#9a3042" stroke-width="0.45" stroke-opacity="0.7"/>
<line x1="23.90" y1="204.63" x2="26.30" y2="204.63" stroke="#9a3042" stroke-width="0.45" stroke-opacity="0.7"/>
<line x1="23.90" y1="205.72" x2="26.30" y2="205.72" stroke="#9a3042" stroke-width="0.45" stroke-opacity="0.7"/>
<line x1="45.50" y1="199.75" x2="45.50" y2="200.83" stroke="#9a3042" stroke-width="0.45" stroke-opacity="0.7"/>
<line x1="44.30" y1="199.75" x2="46.70" y2="199.75" stroke="#9a3042" stroke-width="0.45" stroke-opacity="0.7"/>
<line x1="44.30" y1="200.83" x2="46.70" y2="200.83" stroke="#9a3042" stroke-width="0.45" stroke-opacity="0.7"/>
<line x1="65.90" y1="200.29" x2="65.90" y2="202.46" stroke="#9a3042" stroke-width="0.45" stroke-opacity="0.7"/>
<line x1="64.70" y1="200.29" x2="67.10" y2="200.29" stroke="#9a3042" stroke-width="0.45" stroke-opacity="0.7"/>
<line x1="64.70" y1="202.46" x2="67.10" y2="202.46" stroke="#9a3042" stroke-width="0.45" stroke-opacity="0.7"/>
<polyline points="25.10,205.17 45.50,200.29 65.90,201.38" fill="none" stroke="#9a3042" stroke-width="0.9"/>
<circle cx="25.10" cy="205.17" r="0.95" fill="#9a3042"/>
<circle cx="45.50" cy="200.29" r="0.95" fill="#9a3042"/>
<circle cx="65.90" cy="201.38" r="0.95" fill="#9a3042"/>
<line x1="25.10" y1="204.63" x2="25.10" y2="205.72" stroke="#262f78" stroke-width="0.45" stroke-opacity="0.7"/>
<line x1="23.90" y1="204.63" x2="26.30" y2="204.63" stroke="#262f78" stroke-width="0.45" stroke-opacity="0.7"/>
<line x1="23.90" y1="205.72" x2="26.30" y2="205.72" stroke="#262f78" stroke-width="0.45" stroke-opacity="0.7"/>
<line x1="45.50" y1="199.75" x2="45.50" y2="200.83" stroke="#262f78" stroke-width="0.45" stroke-opacity="0.7"/>
<line x1="44.30" y1="199.75" x2="46.70" y2="199.75" stroke="#262f78" stroke-width="0.45" stroke-opacity="0.7"/>
<line x1="44.30" y1="200.83" x2="46.70" y2="200.83" stroke="#262f78" stroke-width="0.45" stroke-opacity="0.7"/>
<line x1="65.90" y1="200.83" x2="65.90" y2="204.09" stroke="#262f78" stroke-width="0.45" stroke-opacity="0.7"/>
<line x1="64.70" y1="200.83" x2="67.10" y2="200.83" stroke="#262f78" stroke-width="0.45" stroke-opacity="0.7"/>
<line x1="64.70" y1="204.09" x2="67.10" y2="204.09" stroke="#262f78" stroke-width="0.45" stroke-opacity="0.7"/>
<polyline points="25.10,205.17 45.50,200.29 65.90,202.46" fill="none" stroke="#262f78" stroke-width="0.9"/>
<circle cx="25.10" cy="205.17" r="0.95" fill="#262f78"/>
<circle cx="45.50" cy="200.29" r="0.95" fill="#262f78"/>
<circle cx="65.90" cy="202.46" r="0.95" fill="#262f78"/>
<text x="25.10" y="192.78" font-size="4.0" text-anchor="middle" font-weight="normal" fill="#444" stroke="#444" stroke-width="0.1">**</text>
<text x="45.50" y="178.65" font-size="4.0" text-anchor="middle" font-weight="normal" fill="#444" stroke="#444" stroke-width="0.1">****</text>
<line x1="85.30" y1="170.40" x2="90.80" y2="170.40" stroke="#262f78" stroke-width="0.7"/>
<circle cx="88.05" cy="170.40" r="0.8" fill="#262f78"/>
<text x="92.20" y="171.70" font-size="3.6" text-anchor="start" font-weight="normal" fill="#111" stroke="#111" stroke-width="0.1">CT</text>
<line x1="85.30" y1="177.00" x2="90.80" y2="177.00" stroke="#9a3042" stroke-width="0.7"/>
<circle cx="88.05" cy="177.00" r="0.8" fill="#9a3042"/>
<text x="92.20" y="178.30" font-size="3.6" text-anchor="start" font-weight="normal" fill="#111" stroke="#111" stroke-width="0.1">CT+MFLX</text>
<line x1="85.30" y1="183.60" x2="90.80" y2="183.60" stroke="#eea04a" stroke-width="0.7"/>
<circle cx="88.05" cy="183.60" r="0.8" fill="#eea04a"/>
<text x="92.20" y="184.90" font-size="3.6" text-anchor="start" font-weight="normal" fill="#111" stroke="#111" stroke-width="0.1">GK</text>
<line x1="85.30" y1="190.20" x2="90.80" y2="190.20" stroke="#7c5494" stroke-width="0.7"/>
<circle cx="88.05" cy="190.20" r="0.8" fill="#7c5494"/>
<text x="92.20" y="191.50" font-size="3.6" text-anchor="start" font-weight="normal" fill="#111" stroke="#111" stroke-width="0.1">GK+MFLX</text>
<line x1="140.00" y1="161.60" x2="140.00" y2="207.40" stroke="#444" stroke-width="0.6"/>
<line x1="138.00" y1="207.40" x2="140.00" y2="207.40" stroke="#444" stroke-width="0.6"/>
<text x="137.60" y="208.98" font-size="4.4" text-anchor="end" font-weight="normal" fill="#111" stroke="#111" stroke-width="0.1">0</text>
<line x1="138.00" y1="198.24" x2="140.00" y2="198.24" stroke="#444" stroke-width="0.6"/>
<text x="137.60" y="199.82" font-size="4.4" text-anchor="end" font-weight="normal" fill="#111" stroke="#111" stroke-width="0.1">200</text>
<line x1="138.00" y1="189.08" x2="140.00" y2="189.08" stroke="#444" stroke-width="0.6"/>
<text x="137.60" y="190.66" font-size="4.4" text-anchor="end" font-weight="normal" fill="#111" stroke="#111" stroke-width="0.1">400</text>
<line x1="138.00" y1="179.92" x2="140.00" y2="179.92" stroke="#444" stroke-width="0.6"/>
<text x="137.60" y="181.50" font-size="4.4" text-anchor="end" font-weight="normal" fill="#111" stroke="#111" stroke-width="0.1">600</text>
<line x1="138.00" y1="170.76" x2="140.00" y2="170.76" stroke="#444" stroke-width="0.6"/>
<text x="137.60" y="172.34" font-size="4.4" text-anchor="end" font-weight="normal" fill="#111" stroke="#111" stroke-width="0.1">800</text>
<line x1="138.00" y1="161.60" x2="140.00" y2="161.60" stroke="#444" stroke-width="0.6"/>
<text x="137.60" y="163.18" font-size="4.4" text-anchor="end" font-weight="normal" fill="#111" stroke="#111" stroke-width="0.1">1000</text>
<line x1="140.00" y1="207.40" x2="186.50" y2="207.40" stroke="#444" stroke-width="0.6"/>
<rect x="142.80" y="195.72" width="7.60" height="11.68" fill="#262f78"/>
<line x1="146.60" y1="207.40" x2="146.60" y2="208.70" stroke="#444" stroke-width="0.6"/>
<text x="147.00" y="212.60" font-size="3.8" text-anchor="end" font-weight="normal" fill="#111" stroke="#111" stroke-width="0.1" transform="rotate(-45 147.00 212.60)">CT</text>
<rect x="153.80" y="195.72" width="7.60" height="11.68" fill="#9a3042"/>
<line x1="157.60" y1="207.40" x2="157.60" y2="208.70" stroke="#444" stroke-width="0.6"/>
<text x="158.00" y="212.60" font-size="3.8" text-anchor="end" font-weight="normal" fill="#111" stroke="#111" stroke-width="0.1" transform="rotate(-45 158.00 212.60)">CT+MFLX</text>
<rect x="165.20" y="177.63" width="7.60" height="29.77" fill="#eea04a"/>
<circle cx="166.50" cy="175.34" r="1.15" fill="#eea04a"/>
<circle cx="171.50" cy="175.80" r="1.15" fill="#eea04a"/>
<line x1="169.00" y1="207.40" x2="169.00" y2="208.70" stroke="#444" stroke-width="0.6"/>
<text x="169.40" y="212.60" font-size="3.8" text-anchor="end" font-weight="normal" fill="#111" stroke="#111" stroke-width="0.1" transform="rotate(-45 169.40 212.60)">GK</text>
<line x1="180.20" y1="168.01" x2="180.20" y2="172.13" stroke="#7c5494" stroke-width="0.7"/>
<line x1="178.60" y1="168.01" x2="181.80" y2="168.01" stroke="#7c5494" stroke-width="0.7"/>
<rect x="176.40" y="172.13" width="7.60" height="35.27" fill="#7c5494"/>
<line x1="180.20" y1="207.40" x2="180.20" y2="208.70" stroke="#444" stroke-width="0.6"/>
<text x="180.60" y="212.60" font-size="3.8" text-anchor="end" font-weight="normal" fill="#111" stroke="#111" stroke-width="0.1" transform="rotate(-45 180.60 212.60)">GK+MFLX</text>
<line x1="146.20" y1="163.50" x2="157.80" y2="163.50" stroke="#555" stroke-width="0.55"/>
<text x="152.00" y="161.20" font-size="4.2" text-anchor="middle" font-weight="normal" fill="#111" stroke="#111" stroke-width="0.1">ns</text>
<line x1="169.00" y1="163.50" x2="181.00" y2="163.50" stroke="#555" stroke-width="0.55"/>
<circle cx="172.00" cy="160.20" r="1.05" fill="#151515"/>
<circle cx="175.00" cy="160.20" r="1.05" fill="#151515"/>
<circle cx="178.00" cy="160.20" r="1.05" fill="#151515"/>
<text x="124.50" y="184.50" font-size="4.0" text-anchor="middle" font-weight="normal" fill="#111" stroke="#111" stroke-width="0.1" transform="rotate(-90 124.50 184.50)">AUC(mmol·min)</text>
<text x="203.80" y="165.00" font-size="8" text-anchor="start" font-weight="bold" fill="#0a0a0a">F</text>
<line x1="217.90" y1="166.00" x2="217.90" y2="211.70" stroke="#444" stroke-width="0.6"/>
<line x1="215.90" y1="211.70" x2="217.90" y2="211.70" stroke="#444" stroke-width="0.6"/>
<text x="215.50" y="213.14" font-size="4.0" text-anchor="end" font-weight="normal" fill="#111" stroke="#111" stroke-width="0.1">0</text>
<line x1="215.90" y1="200.27" x2="217.90" y2="200.27" stroke="#444" stroke-width="0.6"/>
<text x="215.50" y="201.71" font-size="4.0" text-anchor="end" font-weight="normal" fill="#111" stroke="#111" stroke-width="0.1">1</text>
<line x1="215.90" y1="188.85" x2="217.90" y2="188.85" stroke="#444" stroke-width="0.6"/>
<text x="215.50" y="190.29" font-size="4.0" text-anchor="end" font-weight="normal" fill="#111" stroke="#111" stroke-width="0.1">2</text>
<line x1="215.90" y1="177.43" x2="217.90" y2="177.43" stroke="#444" stroke-width="0.6"/>
<text x="215.50" y="178.87" font-size="4.0" text-anchor="end" font-weight="normal" fill="#111" stroke="#111" stroke-width="0.1">3</text>
<line x1="215.90" y1="166.00" x2="217.90" y2="166.00" stroke="#444" stroke-width="0.6"/>
<text x="215.50" y="167.44" font-size="4.0" text-anchor="end" font-weight="normal" fill="#111" stroke="#111" stroke-width="0.1">4</text>
<line x1="217.90" y1="211.70" x2="279.00" y2="211.70" stroke="#444" stroke-width="0.6"/>
<line x1="228.60" y1="211.70" x2="228.60" y2="213.00" stroke="#444" stroke-width="0.6"/>
<text x="228.60" y="217.70" font-size="4.0" text-anchor="middle" font-weight="normal" fill="#111" stroke="#111" stroke-width="0.1">0</text>
<line x1="249.45" y1="211.70" x2="249.45" y2="213.00" stroke="#444" stroke-width="0.6"/>
<text x="249.45" y="217.70" font-size="4.0" text-anchor="middle" font-weight="normal" fill="#111" stroke="#111" stroke-width="0.1">15</text>
<line x1="270.30" y1="211.70" x2="270.30" y2="213.00" stroke="#444" stroke-width="0.6"/>
<text x="270.30" y="217.70" font-size="4.0" text-anchor="middle" font-weight="normal" fill="#111" stroke="#111" stroke-width="0.1">30</text>
<text x="249.45" y="222.50" font-size="4.0" text-anchor="middle" font-weight="normal" fill="#111" stroke="#111" stroke-width="0.1">Time(min)</text>
<text x="211.60" y="191.00" font-size="4.2" text-anchor="middle" font-weight="normal" fill="#111" stroke="#111" stroke-width="0.1" transform="rotate(-90 211.60 191.00)">Insulin(ng/L)</text>
<line x1="228.60" y1="182.00" x2="228.60" y2="192.28" stroke="#eea04a" stroke-width="0.45" stroke-opacity="0.7"/>
<line x1="227.40" y1="182.00" x2="229.80" y2="182.00" stroke="#eea04a" stroke-width="0.45" stroke-opacity="0.7"/>
<line x1="227.40" y1="192.28" x2="229.80" y2="192.28" stroke="#eea04a" stroke-width="0.45" stroke-opacity="0.7"/>
<line x1="249.45" y1="176.28" x2="249.45" y2="188.85" stroke="#eea04a" stroke-width="0.45" stroke-opacity="0.7"/>
<line x1="248.25" y1="176.28" x2="250.65" y2="176.28" stroke="#eea04a" stroke-width="0.45" stroke-opacity="0.7"/>
<line x1="248.25" y1="188.85" x2="250.65" y2="188.85" stroke="#eea04a" stroke-width="0.45" stroke-opacity="0.7"/>
<line x1="270.30" y1="180.85" x2="270.30" y2="196.85" stroke="#eea04a" stroke-width="0.45" stroke-opacity="0.7"/>
<line x1="269.10" y1="180.85" x2="271.50" y2="180.85" stroke="#eea04a" stroke-width="0.45" stroke-opacity="0.7"/>
<line x1="269.10" y1="196.85" x2="271.50" y2="196.85" stroke="#eea04a" stroke-width="0.45" stroke-opacity="0.7"/>
<polyline points="228.60,187.14 249.45,182.57 270.30,188.85" fill="none" stroke="#eea04a" stroke-width="0.9"/>
<circle cx="228.60" cy="187.14" r="0.95" fill="#eea04a"/>
<circle cx="249.45" cy="182.57" r="0.95" fill="#eea04a"/>
<circle cx="270.30" cy="188.85" r="0.95" fill="#eea04a"/>
<line x1="228.60" y1="198.56" x2="228.60" y2="204.27" stroke="#7c5494" stroke-width="0.45" stroke-opacity="0.7"/>
<line x1="227.40" y1="198.56" x2="229.80" y2="198.56" stroke="#7c5494" stroke-width="0.45" stroke-opacity="0.7"/>
<line x1="227.40" y1="204.27" x2="229.80" y2="204.27" stroke="#7c5494" stroke-width="0.45" stroke-opacity="0.7"/>
<line x1="249.45" y1="189.42" x2="249.45" y2="198.56" stroke="#7c5494" stroke-width="0.45" stroke-opacity="0.7"/>
<line x1="248.25" y1="189.42" x2="250.65" y2="189.42" stroke="#7c5494" stroke-width="0.45" stroke-opacity="0.7"/>
<line x1="248.25" y1="198.56" x2="250.65" y2="198.56" stroke="#7c5494" stroke-width="0.45" stroke-opacity="0.7"/>
<line x1="270.30" y1="189.99" x2="270.30" y2="201.42" stroke="#7c5494" stroke-width="0.45" stroke-opacity="0.7"/>
<line x1="269.10" y1="189.99" x2="271.50" y2="189.99" stroke="#7c5494" stroke-width="0.45" stroke-opacity="0.7"/>
<line x1="269.10" y1="201.42" x2="271.50" y2="201.42" stroke="#7c5494" stroke-width="0.45" stroke-opacity="0.7"/>
<polyline points="228.60,201.42 249.45,193.99 270.30,195.70" fill="none" stroke="#7c5494" stroke-width="0.9"/>
<circle cx="228.60" cy="201.42" r="0.95" fill="#7c5494"/>
<circle cx="249.45" cy="193.99" r="0.95" fill="#7c5494"/>
<circle cx="270.30" cy="195.70" r="0.95" fill="#7c5494"/>
<line x1="228.60" y1="198.56" x2="228.60" y2="205.42" stroke="#7a2a3a" stroke-width="0.45" stroke-opacity="0.7"/>
<line x1="227.40" y1="198.56" x2="229.80" y2="198.56" stroke="#7a2a3a" stroke-width="0.45" stroke-opacity="0.7"/>
<line x1="227.40" y1="205.42" x2="229.80" y2="205.42" stroke="#7a2a3a" stroke-width="0.45" stroke-opacity="0.7"/>
<line x1="249.45" y1="172.85" x2="249.45" y2="184.28" stroke="#7a2a3a" stroke-width="0.45" stroke-opacity="0.7"/>
<line x1="248.25" y1="172.85" x2="250.65" y2="172.85" stroke="#7a2a3a" stroke-width="0.45" stroke-opacity="0.7"/>
<line x1="248.25" y1="184.28" x2="250.65" y2="184.28" stroke="#7a2a3a" stroke-width="0.45" stroke-opacity="0.7"/>
<line x1="270.30" y1="192.28" x2="270.30" y2="202.56" stroke="#7a2a3a" stroke-width="0.45" stroke-opacity="0.7"/>
<line x1="269.10" y1="192.28" x2="271.50" y2="192.28" stroke="#7a2a3a" stroke-width="0.45" stroke-opacity="0.7"/>
<line x1="269.10" y1="202.56" x2="271.50" y2="202.56" stroke="#7a2a3a" stroke-width="0.45" stroke-opacity="0.7"/>
<polyline points="228.60,201.99 249.45,178.57 270.30,197.42" fill="none" stroke="#7a2a3a" stroke-width="1.1"/>
<circle cx="228.60" cy="201.99" r="0.95" fill="#7a2a3a"/>
<circle cx="249.45" cy="178.57" r="0.95" fill="#7a2a3a"/>
<circle cx="270.30" cy="197.42" r="0.95" fill="#7a2a3a"/>
<line x1="228.60" y1="200.27" x2="228.60" y2="204.84" stroke="#22244a" stroke-width="0.45" stroke-opacity="0.7"/>
<line x1="227.40" y1="200.27" x2="229.80" y2="200.27" stroke="#22244a" stroke-width="0.45" stroke-opacity="0.7"/>
<line x1="227.40" y1="204.84" x2="229.80" y2="204.84" stroke="#22244a" stroke-width="0.45" stroke-opacity="0.7"/>
<line x1="249.45" y1="171.71" x2="249.45" y2="184.28" stroke="#22244a" stroke-width="0.45" stroke-opacity="0.7"/>
<line x1="248.25" y1="171.71" x2="250.65" y2="171.71" stroke="#22244a" stroke-width="0.45" stroke-opacity="0.7"/>
<line x1="248.25" y1="184.28" x2="250.65" y2="184.28" stroke="#22244a" stroke-width="0.45" stroke-opacity="0.7"/>
<line x1="270.30" y1="192.28" x2="270.30" y2="201.42" stroke="#22244a" stroke-width="0.45" stroke-opacity="0.7"/>
<line x1="269.10" y1="192.28" x2="271.50" y2="192.28" stroke="#22244a" stroke-width="0.45" stroke-opacity="0.7"/>
<line x1="269.10" y1="201.42" x2="271.50" y2="201.42" stroke="#22244a" stroke-width="0.45" stroke-opacity="0.7"/>
<polyline points="228.60,202.56 249.45,178.00 270.30,196.85" fill="none" stroke="#22244a" stroke-width="1.1"/>
<circle cx="228.60" cy="202.56" r="0.95" fill="#22244a"/>
<circle cx="249.45" cy="178.00" r="0.95" fill="#22244a"/>
<circle cx="270.30" cy="196.85" r="0.95" fill="#22244a"/>
<text x="252.25" y="190.65" font-size="5" text-anchor="middle" font-weight="bold" fill="#111" stroke="#111" stroke-width="0.1">*</text>
<line x1="289.40" y1="169.30" x2="294.90" y2="169.30" stroke="#262f78" stroke-width="0.7"/>
<circle cx="292.15" cy="169.30" r="0.8" fill="#262f78"/>
<text x="296.30" y="170.60" font-size="3.6" text-anchor="start" font-weight="normal" fill="#111" stroke="#111" stroke-width="0.1">CT</text>
<line x1="289.40" y1="175.40" x2="294.90" y2="175.40" stroke="#9a3042" stroke-width="0.7"/>
<circle cx="292.15" cy="175.40" r="0.8" fill="#9a3042"/>
<text x="296.30" y="176.70" font-size="3.6" text-anchor="start" font-weight="normal" fill="#111" stroke="#111" stroke-width="0.1">CT+MFLX</text>
<line x1="289.40" y1="181.50" x2="294.90" y2="181.50" stroke="#eea04a" stroke-width="0.7"/>
<circle cx="292.15" cy="181.50" r="0.8" fill="#eea04a"/>
<text x="296.30" y="182.80" font-size="3.6" text-anchor="start" font-weight="normal" fill="#111" stroke="#111" stroke-width="0.1">GK</text>
<line x1="289.40" y1="187.60" x2="294.90" y2="187.60" stroke="#7c5494" stroke-width="0.7"/>
<circle cx="292.15" cy="187.60" r="0.8" fill="#7c5494"/>
<text x="296.30" y="188.90" font-size="3.6" text-anchor="start" font-weight="normal" fill="#111" stroke="#111" stroke-width="0.1">GK+MFLX</text>
<text x="1.80" y="227.60" font-size="8" text-anchor="start" font-weight="bold" fill="#0a0a0a">G</text>
<text x="49.20" y="230.50" font-size="3.9" text-anchor="middle" font-weight="bold" fill="#111" stroke="#111" stroke-width="0.1">OGTT (14 d)</text>
<line x1="16.00" y1="235.30" x2="16.00" y2="279.30" stroke="#444" stroke-width="0.6"/>
<line x1="14.00" y1="279.30" x2="16.00" y2="279.30" stroke="#444" stroke-width="0.6"/>
<text x="13.60" y="280.74" font-size="4.0" text-anchor="end" font-weight="normal" fill="#111" stroke="#111" stroke-width="0.1">0</text>
<line x1="14.00" y1="268.30" x2="16.00" y2="268.30" stroke="#444" stroke-width="0.6"/>
<text x="13.60" y="269.74" font-size="4.0" text-anchor="end" font-weight="normal" fill="#111" stroke="#111" stroke-width="0.1">10</text>
<line x1="14.00" y1="257.30" x2="16.00" y2="257.30" stroke="#444" stroke-width="0.6"/>
<text x="13.60" y="258.74" font-size="4.0" text-anchor="end" font-weight="normal" fill="#111" stroke="#111" stroke-width="0.1">20</text>
<line x1="14.00" y1="246.30" x2="16.00" y2="246.30" stroke="#444" stroke-width="0.6"/>
<text x="13.60" y="247.74" font-size="4.0" text-anchor="end" font-weight="normal" fill="#111" stroke="#111" stroke-width="0.1">30</text>
<line x1="14.00" y1="235.30" x2="16.00" y2="235.30" stroke="#444" stroke-width="0.6"/>
<text x="13.60" y="236.74" font-size="4.0" text-anchor="end" font-weight="normal" fill="#111" stroke="#111" stroke-width="0.1">40</text>
<line x1="16.00" y1="279.30" x2="74.50" y2="279.30" stroke="#444" stroke-width="0.6"/>
<line x1="26.70" y1="279.30" x2="26.70" y2="280.60" stroke="#444" stroke-width="0.6"/>
<text x="26.70" y="285.30" font-size="3.9" text-anchor="middle" font-weight="normal" fill="#111" stroke="#111" stroke-width="0.1">0</text>
<line x1="48.90" y1="279.30" x2="48.90" y2="280.60" stroke="#444" stroke-width="0.6"/>
<text x="48.90" y="285.30" font-size="3.9" text-anchor="middle" font-weight="normal" fill="#111" stroke="#111" stroke-width="0.1">15</text>
<line x1="71.10" y1="279.30" x2="71.10" y2="280.60" stroke="#444" stroke-width="0.6"/>
<text x="71.10" y="285.30" font-size="3.9" text-anchor="middle" font-weight="normal" fill="#111" stroke="#111" stroke-width="0.1">30</text>
<text x="48.90" y="291.00" font-size="3.9" text-anchor="middle" font-weight="normal" fill="#111" stroke="#111" stroke-width="0.1">Time (min)</text>
<text x="5.50" y="257.00" font-size="4.0" text-anchor="middle" font-weight="normal" fill="#111" stroke="#111" stroke-width="0.1" transform="rotate(-90 5.50 257.00)">Glucose(mM)</text>
<line x1="26.70" y1="267.75" x2="26.70" y2="269.95" stroke="#eea04a" stroke-width="0.45" stroke-opacity="0.7"/>
<line x1="25.50" y1="267.75" x2="27.90" y2="267.75" stroke="#eea04a" stroke-width="0.45" stroke-opacity="0.7"/>
<line x1="25.50" y1="269.95" x2="27.90" y2="269.95" stroke="#eea04a" stroke-width="0.45" stroke-opacity="0.7"/>
<line x1="48.90" y1="252.90" x2="48.90" y2="257.30" stroke="#eea04a" stroke-width="0.45" stroke-opacity="0.7"/>
<line x1="47.70" y1="252.90" x2="50.10" y2="252.90" stroke="#eea04a" stroke-width="0.45" stroke-opacity="0.7"/>
<line x1="47.70" y1="257.30" x2="50.10" y2="257.30" stroke="#eea04a" stroke-width="0.45" stroke-opacity="0.7"/>
<line x1="71.10" y1="245.75" x2="71.10" y2="249.05" stroke="#eea04a" stroke-width="0.45" stroke-opacity="0.7"/>
<line x1="69.90" y1="245.75" x2="72.30" y2="245.75" stroke="#eea04a" stroke-width="0.45" stroke-opacity="0.7"/>
<line x1="69.90" y1="249.05" x2="72.30" y2="249.05" stroke="#eea04a" stroke-width="0.45" stroke-opacity="0.7"/>
<polyline points="26.70,268.85 48.90,255.10 71.10,247.40" fill="none" stroke="#eea04a" stroke-width="0.9"/>
<circle cx="26.70" cy="268.85" r="0.95" fill="#eea04a"/>
<circle cx="48.90" cy="255.10" r="0.95" fill="#eea04a"/>
<circle cx="71.10" cy="247.40" r="0.95" fill="#eea04a"/>
<line x1="26.70" y1="265.00" x2="26.70" y2="268.30" stroke="#7c5494" stroke-width="0.45" stroke-opacity="0.7"/>
<line x1="25.50" y1="265.00" x2="27.90" y2="265.00" stroke="#7c5494" stroke-width="0.45" stroke-opacity="0.7"/>
<line x1="25.50" y1="268.30" x2="27.90" y2="268.30" stroke="#7c5494" stroke-width="0.45" stroke-opacity="0.7"/>
<line x1="48.90" y1="252.35" x2="48.90" y2="256.75" stroke="#7c5494" stroke-width="0.45" stroke-opacity="0.7"/>
<line x1="47.70" y1="252.35" x2="50.10" y2="252.35" stroke="#7c5494" stroke-width="0.45" stroke-opacity="0.7"/>
<line x1="47.70" y1="256.75" x2="50.10" y2="256.75" stroke="#7c5494" stroke-width="0.45" stroke-opacity="0.7"/>
<line x1="71.10" y1="246.30" x2="71.10" y2="249.60" stroke="#7c5494" stroke-width="0.45" stroke-opacity="0.7"/>
<line x1="69.90" y1="246.30" x2="72.30" y2="246.30" stroke="#7c5494" stroke-width="0.45" stroke-opacity="0.7"/>
<line x1="69.90" y1="249.60" x2="72.30" y2="249.60" stroke="#7c5494" stroke-width="0.45" stroke-opacity="0.7"/>
<polyline points="26.70,266.65 48.90,254.55 71.10,247.95" fill="none" stroke="#7c5494" stroke-width="0.9"/>
<circle cx="26.70" cy="266.65" r="0.95" fill="#7c5494"/>
<circle cx="48.90" cy="254.55" r="0.95" fill="#7c5494"/>
<circle cx="71.10" cy="247.95" r="0.95" fill="#7c5494"/>
<line x1="26.70" y1="273.25" x2="26.70" y2="274.35" stroke="#9a3042" stroke-width="0.45" stroke-opacity="0.7"/>
<line x1="25.50" y1="273.25" x2="27.90" y2="273.25" stroke="#9a3042" stroke-width="0.45" stroke-opacity="0.7"/>
<line x1="25.50" y1="274.35" x2="27.90" y2="274.35" stroke="#9a3042" stroke-width="0.45" stroke-opacity="0.7"/>
<line x1="48.90" y1="272.15" x2="48.90" y2="273.25" stroke="#9a3042" stroke-width="0.45" stroke-opacity="0.7"/>
<line x1="47.70" y1="272.15" x2="50.10" y2="272.15" stroke="#9a3042" stroke-width="0.45" stroke-opacity="0.7"/>
<line x1="47.70" y1="273.25" x2="50.10" y2="273.25" stroke="#9a3042" stroke-width="0.45" stroke-opacity="0.7"/>
<line x1="71.10" y1="269.95" x2="71.10" y2="271.05" stroke="#9a3042" stroke-width="0.45" stroke-opacity="0.7"/>
<line x1="69.90" y1="269.95" x2="72.30" y2="269.95" stroke="#9a3042" stroke-width="0.45" stroke-opacity="0.7"/>
<line x1="69.90" y1="271.05" x2="72.30" y2="271.05" stroke="#9a3042" stroke-width="0.45" stroke-opacity="0.7"/>
<polyline points="26.70,273.80 48.90,272.70 71.10,270.50" fill="none" stroke="#9a3042" stroke-width="0.9"/>
<circle cx="26.70" cy="273.80" r="0.95" fill="#9a3042"/>
<circle cx="48.90" cy="272.70" r="0.95" fill="#9a3042"/>
<circle cx="71.10" cy="270.50" r="0.95" fill="#9a3042"/>
<line x1="26.70" y1="273.25" x2="26.70" y2="274.35" stroke="#262f78" stroke-width="0.45" stroke-opacity="0.7"/>
<line x1="25.50" y1="273.25" x2="27.90" y2="273.25" stroke="#262f78" stroke-width="0.45" stroke-opacity="0.7"/>
<line x1="25.50" y1="274.35" x2="27.90" y2="274.35" stroke="#262f78" stroke-width="0.45" stroke-opacity="0.7"/>
<line x1="48.90" y1="271.05" x2="48.90" y2="273.25" stroke="#262f78" stroke-width="0.45" stroke-opacity="0.7"/>
<line x1="47.70" y1="271.05" x2="50.10" y2="271.05" stroke="#262f78" stroke-width="0.45" stroke-opacity="0.7"/>
<line x1="47.70" y1="273.25" x2="50.10" y2="273.25" stroke="#262f78" stroke-width="0.45" stroke-opacity="0.7"/>
<line x1="71.10" y1="269.95" x2="71.10" y2="271.05" stroke="#262f78" stroke-width="0.45" stroke-opacity="0.7"/>
<line x1="69.90" y1="269.95" x2="72.30" y2="269.95" stroke="#262f78" stroke-width="0.45" stroke-opacity="0.7"/>
<line x1="69.90" y1="271.05" x2="72.30" y2="271.05" stroke="#262f78" stroke-width="0.45" stroke-opacity="0.7"/>
<polyline points="26.70,273.80 48.90,272.15 71.10,270.50" fill="none" stroke="#262f78" stroke-width="0.9"/>
<circle cx="26.70" cy="273.80" r="0.95" fill="#262f78"/>
<circle cx="48.90" cy="272.15" r="0.95" fill="#262f78"/>
<circle cx="71.10" cy="270.50" r="0.95" fill="#262f78"/>
<text x="26.70" y="264.20" font-size="5.5" text-anchor="middle" font-weight="bold" fill="#111" stroke="#111" stroke-width="0.1">*</text>
<line x1="90.80" y1="238.30" x2="96.30" y2="238.30" stroke="#262f78" stroke-width="0.7"/>
<circle cx="93.55" cy="238.30" r="0.8" fill="#262f78"/>
<text x="97.70" y="239.60" font-size="3.6" text-anchor="start" font-weight="normal" fill="#111" stroke="#111" stroke-width="0.1">CT</text>
<line x1="90.80" y1="244.65" x2="96.30" y2="244.65" stroke="#9a3042" stroke-width="0.7"/>
<circle cx="93.55" cy="244.65" r="0.8" fill="#9a3042"/>
<text x="97.70" y="245.95" font-size="3.6" text-anchor="start" font-weight="normal" fill="#111" stroke="#111" stroke-width="0.1">CT+MFLX</text>
<line x1="90.80" y1="251.00" x2="96.30" y2="251.00" stroke="#eea04a" stroke-width="0.7"/>
<circle cx="93.55" cy="251.00" r="0.8" fill="#eea04a"/>
<text x="97.70" y="252.30" font-size="3.6" text-anchor="start" font-weight="normal" fill="#111" stroke="#111" stroke-width="0.1">GK</text>
<line x1="90.80" y1="257.35" x2="96.30" y2="257.35" stroke="#7c5494" stroke-width="0.7"/>
<circle cx="93.55" cy="257.35" r="0.8" fill="#7c5494"/>
<text x="97.70" y="258.65" font-size="3.6" text-anchor="start" font-weight="normal" fill="#111" stroke="#111" stroke-width="0.1">GK+MFLX</text>
<line x1="80.50" y1="279.60" x2="83.00" y2="279.60" stroke="#444" stroke-width="0.5"/>
<line x1="137.10" y1="229.70" x2="137.10" y2="274.10" stroke="#444" stroke-width="0.6"/>
<line x1="135.10" y1="274.10" x2="137.10" y2="274.10" stroke="#444" stroke-width="0.6"/>
<text x="134.70" y="275.68" font-size="4.4" text-anchor="end" font-weight="normal" fill="#111" stroke="#111" stroke-width="0.1">0</text>
<line x1="135.10" y1="263.00" x2="137.10" y2="263.00" stroke="#444" stroke-width="0.6"/>
<text x="134.70" y="264.58" font-size="4.4" text-anchor="end" font-weight="normal" fill="#111" stroke="#111" stroke-width="0.1">200</text>
<line x1="135.10" y1="251.90" x2="137.10" y2="251.90" stroke="#444" stroke-width="0.6"/>
<text x="134.70" y="253.48" font-size="4.4" text-anchor="end" font-weight="normal" fill="#111" stroke="#111" stroke-width="0.1">400</text>
<line x1="135.10" y1="240.80" x2="137.10" y2="240.80" stroke="#444" stroke-width="0.6"/>
<text x="134.70" y="242.38" font-size="4.4" text-anchor="end" font-weight="normal" fill="#111" stroke="#111" stroke-width="0.1">600</text>
<line x1="135.10" y1="229.70" x2="137.10" y2="229.70" stroke="#444" stroke-width="0.6"/>
<text x="134.70" y="231.28" font-size="4.4" text-anchor="end" font-weight="normal" fill="#111" stroke="#111" stroke-width="0.1">800</text>
<line x1="137.10" y1="274.10" x2="185.70" y2="274.10" stroke="#444" stroke-width="0.6"/>
<rect x="141.50" y="262.44" width="8.00" height="11.66" fill="#262f78"/>
<line x1="145.50" y1="274.10" x2="145.50" y2="275.40" stroke="#444" stroke-width="0.6"/>
<text x="145.90" y="279.60" font-size="3.8" text-anchor="end" font-weight="normal" fill="#111" stroke="#111" stroke-width="0.1" transform="rotate(-45 145.90 279.60)">CT</text>
<rect x="152.60" y="263.28" width="8.00" height="10.82" fill="#9a3042"/>
<line x1="156.60" y1="274.10" x2="156.60" y2="275.40" stroke="#444" stroke-width="0.6"/>
<text x="157.00" y="279.60" font-size="3.8" text-anchor="end" font-weight="normal" fill="#111" stroke="#111" stroke-width="0.1" transform="rotate(-45 157.00 279.60)">CT+MFLX</text>
<rect x="164.00" y="238.03" width="8.00" height="36.08" fill="#eea04a"/>
<line x1="168.00" y1="274.10" x2="168.00" y2="275.40" stroke="#444" stroke-width="0.6"/>
<text x="168.40" y="279.60" font-size="3.8" text-anchor="end" font-weight="normal" fill="#111" stroke="#111" stroke-width="0.1" transform="rotate(-45 168.40 279.60)">GK</text>
<line x1="179.20" y1="237.75" x2="179.20" y2="239.13" stroke="#7c5494" stroke-width="0.7"/>
<line x1="177.60" y1="237.75" x2="180.80" y2="237.75" stroke="#7c5494" stroke-width="0.7"/>
<rect x="175.20" y="239.13" width="8.00" height="34.97" fill="#7c5494"/>
<line x1="179.20" y1="274.10" x2="179.20" y2="275.40" stroke="#444" stroke-width="0.6"/>
<text x="179.60" y="279.60" font-size="3.8" text-anchor="end" font-weight="normal" fill="#111" stroke="#111" stroke-width="0.1" transform="rotate(-45 179.60 279.60)">GK+MFLX</text>
<line x1="145.90" y1="231.70" x2="156.70" y2="231.70" stroke="#555" stroke-width="0.55"/>
<text x="151.30" y="229.40" font-size="4.2" text-anchor="middle" font-weight="normal" fill="#111" stroke="#111" stroke-width="0.1">ns</text>
<line x1="167.80" y1="231.70" x2="179.50" y2="231.70" stroke="#555" stroke-width="0.55"/>
<text x="173.65" y="229.40" font-size="4.2" text-anchor="middle" font-weight="normal" fill="#111" stroke="#111" stroke-width="0.1">ns</text>
<text x="125.30" y="251.90" font-size="4.0" text-anchor="middle" font-weight="normal" fill="#111" stroke="#111" stroke-width="0.1" transform="rotate(-90 125.30 251.90)">AUC(mmol·min)</text>
<text x="204.00" y="227.50" font-size="8" text-anchor="start" font-weight="bold" fill="#0a0a0a">H</text>
<line x1="216.80" y1="231.10" x2="216.80" y2="278.00" stroke="#444" stroke-width="0.6"/>
<line x1="214.80" y1="278.00" x2="216.80" y2="278.00" stroke="#444" stroke-width="0.6"/>
<text x="214.40" y="279.44" font-size="4.0" text-anchor="end" font-weight="normal" fill="#111" stroke="#111" stroke-width="0.1">0</text>
<line x1="214.80" y1="268.62" x2="216.80" y2="268.62" stroke="#444" stroke-width="0.6"/>
<text x="214.40" y="270.06" font-size="4.0" text-anchor="end" font-weight="normal" fill="#111" stroke="#111" stroke-width="0.1">1</text>
<line x1="214.80" y1="259.24" x2="216.80" y2="259.24" stroke="#444" stroke-width="0.6"/>
<text x="214.40" y="260.68" font-size="4.0" text-anchor="end" font-weight="normal" fill="#111" stroke="#111" stroke-width="0.1">2</text>
<line x1="214.80" y1="249.86" x2="216.80" y2="249.86" stroke="#444" stroke-width="0.6"/>
<text x="214.40" y="251.30" font-size="4.0" text-anchor="end" font-weight="normal" fill="#111" stroke="#111" stroke-width="0.1">3</text>
<line x1="214.80" y1="240.48" x2="216.80" y2="240.48" stroke="#444" stroke-width="0.6"/>
<text x="214.40" y="241.92" font-size="4.0" text-anchor="end" font-weight="normal" fill="#111" stroke="#111" stroke-width="0.1">4</text>
<line x1="214.80" y1="231.10" x2="216.80" y2="231.10" stroke="#444" stroke-width="0.6"/>
<text x="214.40" y="232.54" font-size="4.0" text-anchor="end" font-weight="normal" fill="#111" stroke="#111" stroke-width="0.1">5</text>
<line x1="216.80" y1="278.00" x2="279.50" y2="278.00" stroke="#444" stroke-width="0.6"/>
<line x1="231.40" y1="278.00" x2="231.40" y2="279.30" stroke="#444" stroke-width="0.6"/>
<text x="231.40" y="284.00" font-size="4.0" text-anchor="middle" font-weight="normal" fill="#111" stroke="#111" stroke-width="0.1">0</text>
<line x1="249.60" y1="278.00" x2="249.60" y2="279.30" stroke="#444" stroke-width="0.6"/>
<text x="249.60" y="284.00" font-size="4.0" text-anchor="middle" font-weight="normal" fill="#111" stroke="#111" stroke-width="0.1">15</text>
<line x1="267.80" y1="278.00" x2="267.80" y2="279.30" stroke="#444" stroke-width="0.6"/>
<text x="267.80" y="284.00" font-size="4.0" text-anchor="middle" font-weight="normal" fill="#111" stroke="#111" stroke-width="0.1">30</text>
<text x="249.60" y="289.00" font-size="4.0" text-anchor="middle" font-weight="normal" fill="#111" stroke="#111" stroke-width="0.1">Time(min)</text>
<text x="213.40" y="256.00" font-size="4.2" text-anchor="middle" font-weight="normal" fill="#111" stroke="#111" stroke-width="0.1" transform="rotate(-90 213.40 256.00)">Insulin(ng/L)</text>
<line x1="231.40" y1="272.37" x2="231.40" y2="274.25" stroke="#eea04a" stroke-width="0.45" stroke-opacity="0.7"/>
<line x1="230.20" y1="272.37" x2="232.60" y2="272.37" stroke="#eea04a" stroke-width="0.45" stroke-opacity="0.7"/>
<line x1="230.20" y1="274.25" x2="232.60" y2="274.25" stroke="#eea04a" stroke-width="0.45" stroke-opacity="0.7"/>
<line x1="249.60" y1="268.62" x2="249.60" y2="273.31" stroke="#eea04a" stroke-width="0.45" stroke-opacity="0.7"/>
<line x1="248.40" y1="268.62" x2="250.80" y2="268.62" stroke="#eea04a" stroke-width="0.45" stroke-opacity="0.7"/>
<line x1="248.40" y1="273.31" x2="250.80" y2="273.31" stroke="#eea04a" stroke-width="0.45" stroke-opacity="0.7"/>
<line x1="267.80" y1="263.93" x2="267.80" y2="273.31" stroke="#eea04a" stroke-width="0.45" stroke-opacity="0.7"/>
<line x1="266.60" y1="263.93" x2="269.00" y2="263.93" stroke="#eea04a" stroke-width="0.45" stroke-opacity="0.7"/>
<line x1="266.60" y1="273.31" x2="269.00" y2="273.31" stroke="#eea04a" stroke-width="0.45" stroke-opacity="0.7"/>
<polyline points="231.40,273.31 249.60,270.96 267.80,268.62" fill="none" stroke="#eea04a" stroke-width="0.9"/>
<circle cx="231.40" cy="273.31" r="0.95" fill="#eea04a"/>
<circle cx="249.60" cy="270.96" r="0.95" fill="#eea04a"/>
<circle cx="267.80" cy="268.62" r="0.95" fill="#eea04a"/>
<line x1="231.40" y1="271.90" x2="231.40" y2="273.78" stroke="#7c5494" stroke-width="0.45" stroke-opacity="0.7"/>
<line x1="230.20" y1="271.90" x2="232.60" y2="271.90" stroke="#7c5494" stroke-width="0.45" stroke-opacity="0.7"/>
<line x1="230.20" y1="273.78" x2="232.60" y2="273.78" stroke="#7c5494" stroke-width="0.45" stroke-opacity="0.7"/>
<line x1="249.60" y1="269.56" x2="249.60" y2="273.31" stroke="#7c5494" stroke-width="0.45" stroke-opacity="0.7"/>
<line x1="248.40" y1="269.56" x2="250.80" y2="269.56" stroke="#7c5494" stroke-width="0.45" stroke-opacity="0.7"/>
<line x1="248.40" y1="273.31" x2="250.80" y2="273.31" stroke="#7c5494" stroke-width="0.45" stroke-opacity="0.7"/>
<line x1="267.80" y1="267.21" x2="267.80" y2="272.84" stroke="#7c5494" stroke-width="0.45" stroke-opacity="0.7"/>
<line x1="266.60" y1="267.21" x2="269.00" y2="267.21" stroke="#7c5494" stroke-width="0.45" stroke-opacity="0.7"/>
<line x1="266.60" y1="272.84" x2="269.00" y2="272.84" stroke="#7c5494" stroke-width="0.45" stroke-opacity="0.7"/>
<polyline points="231.40,272.84 249.60,271.43 267.80,270.03" fill="none" stroke="#7c5494" stroke-width="0.9"/>
<circle cx="231.40" cy="272.84" r="0.95" fill="#7c5494"/>
<circle cx="249.60" cy="271.43" r="0.95" fill="#7c5494"/>
<circle cx="267.80" cy="270.03" r="0.95" fill="#7c5494"/>
<line x1="231.40" y1="269.09" x2="231.40" y2="272.84" stroke="#9a3042" stroke-width="0.45" stroke-opacity="0.7"/>
<line x1="230.20" y1="269.09" x2="232.60" y2="269.09" stroke="#9a3042" stroke-width="0.45" stroke-opacity="0.7"/>
<line x1="230.20" y1="272.84" x2="232.60" y2="272.84" stroke="#9a3042" stroke-width="0.45" stroke-opacity="0.7"/>
<line x1="249.60" y1="240.48" x2="249.60" y2="262.99" stroke="#9a3042" stroke-width="0.45" stroke-opacity="0.7"/>
<line x1="248.40" y1="240.48" x2="250.80" y2="240.48" stroke="#9a3042" stroke-width="0.45" stroke-opacity="0.7"/>
<line x1="248.40" y1="262.99" x2="250.80" y2="262.99" stroke="#9a3042" stroke-width="0.45" stroke-opacity="0.7"/>
<line x1="267.80" y1="239.07" x2="267.80" y2="263.46" stroke="#9a3042" stroke-width="0.45" stroke-opacity="0.7"/>
<line x1="266.60" y1="239.07" x2="269.00" y2="239.07" stroke="#9a3042" stroke-width="0.45" stroke-opacity="0.7"/>
<line x1="266.60" y1="263.46" x2="269.00" y2="263.46" stroke="#9a3042" stroke-width="0.45" stroke-opacity="0.7"/>
<polyline points="231.40,270.96 249.60,251.74 267.80,251.27" fill="none" stroke="#9a3042" stroke-width="0.9"/>
<circle cx="231.40" cy="270.96" r="0.95" fill="#9a3042"/>
<circle cx="249.60" cy="251.74" r="0.95" fill="#9a3042"/>
<circle cx="267.80" cy="251.27" r="0.95" fill="#9a3042"/>
<line x1="231.40" y1="268.15" x2="231.40" y2="272.84" stroke="#262f78" stroke-width="0.45" stroke-opacity="0.7"/>
<line x1="230.20" y1="268.15" x2="232.60" y2="268.15" stroke="#262f78" stroke-width="0.45" stroke-opacity="0.7"/>
<line x1="230.20" y1="272.84" x2="232.60" y2="272.84" stroke="#262f78" stroke-width="0.45" stroke-opacity="0.7"/>
<line x1="249.60" y1="237.20" x2="249.60" y2="263.46" stroke="#262f78" stroke-width="0.45" stroke-opacity="0.7"/>
<line x1="248.40" y1="237.20" x2="250.80" y2="237.20" stroke="#262f78" stroke-width="0.45" stroke-opacity="0.7"/>
<line x1="248.40" y1="263.46" x2="250.80" y2="263.46" stroke="#262f78" stroke-width="0.45" stroke-opacity="0.7"/>
<line x1="267.80" y1="238.60" x2="267.80" y2="262.99" stroke="#262f78" stroke-width="0.45" stroke-opacity="0.7"/>
<line x1="266.60" y1="238.60" x2="269.00" y2="238.60" stroke="#262f78" stroke-width="0.45" stroke-opacity="0.7"/>
<line x1="266.60" y1="262.99" x2="269.00" y2="262.99" stroke="#262f78" stroke-width="0.45" stroke-opacity="0.7"/>
<polyline points="231.40,270.50 249.60,250.33 267.80,250.80" fill="none" stroke="#262f78" stroke-width="0.9"/>
<circle cx="231.40" cy="270.50" r="0.95" fill="#262f78"/>
<circle cx="249.60" cy="250.33" r="0.95" fill="#262f78"/>
<circle cx="267.80" cy="250.80" r="0.95" fill="#262f78"/>
<line x1="289.10" y1="234.80" x2="294.60" y2="234.80" stroke="#262f78" stroke-width="0.7"/>
<circle cx="291.85" cy="234.80" r="0.8" fill="#262f78"/>
<text x="296.00" y="236.10" font-size="3.6" text-anchor="start" font-weight="normal" fill="#111" stroke="#111" stroke-width="0.1">CT</text>
<line x1="289.10" y1="241.00" x2="294.60" y2="241.00" stroke="#9a3042" stroke-width="0.7"/>
<circle cx="291.85" cy="241.00" r="0.8" fill="#9a3042"/>
<text x="296.00" y="242.30" font-size="3.6" text-anchor="start" font-weight="normal" fill="#111" stroke="#111" stroke-width="0.1">CT+MFLX</text>
<line x1="289.10" y1="247.20" x2="294.60" y2="247.20" stroke="#eea04a" stroke-width="0.7"/>
<circle cx="291.85" cy="247.20" r="0.8" fill="#eea04a"/>
<text x="296.00" y="248.50" font-size="3.6" text-anchor="start" font-weight="normal" fill="#111" stroke="#111" stroke-width="0.1">GK</text>
<line x1="289.10" y1="253.40" x2="294.60" y2="253.40" stroke="#7c5494" stroke-width="0.7"/>
<circle cx="291.85" cy="253.40" r="0.8" fill="#7c5494"/>
<text x="296.00" y="254.70" font-size="3.6" text-anchor="start" font-weight="normal" fill="#111" stroke="#111" stroke-width="0.1">GK+MFLX</text>
</svg></body></html>
